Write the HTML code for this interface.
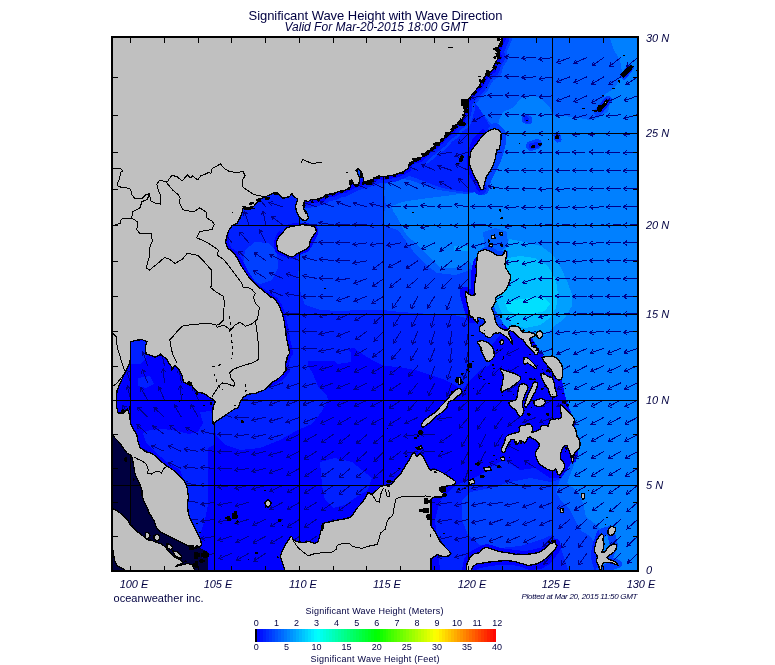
<!DOCTYPE html>
<html lang="en"><head><meta charset="utf-8"><title>Significant Wave Height with Wave Direction</title>
<style>html,body{margin:0;padding:0;background:#fff}body{width:775px;height:665px;overflow:hidden}svg{display:block}text{font-family:"Liberation Sans", Arial, sans-serif;fill:#000040}</style></head><body>
<svg width="775" height="665" viewBox="0 0 775 665">
<rect width="775" height="665" fill="#fff"/>
<defs><clipPath id="mc"><rect x="113" y="38" width="524" height="532"/></clipPath></defs>
<g clip-path="url(#mc)">
<g shape-rendering="crispEdges">
<rect x="113" y="38" width="524" height="532" fill="#0000ff"/>
<path d="M113 38L113 335L150 336L185 355L205 380L214 405L214 425L216 435L225 445L240 450L260 448L280 440L298 430L312 424L322 411L328 400L327 396L319 388L316 381L313 374L308 365L308 361L334 361L337 364L351 362L351 353L347 349L354 348L361 353L372 360L384 366L399 367L415 370L431 375L445 380L455 385L462 390L470 380L480 370L490 365L492 345L500 335L505 325L520 328L530 335L538 348L545 358L555 365L562 380L565 395L568 405L574 420L578 440L578 455L570 470L562 478L550 478L535 468L520 470L508 462L503 460L490 468L480 475L470 480L458 484L450 490L440 500L435 520L440 570L637 570L637 38Z" fill="#0020ff"/>
<path d="M143 433L150 430L164 429L177 431L189 434L198 432L203 423L200 412L211 411L214 425L214 445L208 448L208 505L205 520L200 535L197 545L190 530L187 510L187 490L180 470L167 462L155 452L146 442Z" fill="#0020ff"/>
<path d="M131 341L146 341L148 349L146 358L140 364L131 364Z" fill="#0020ff"/>
<path d="M138 378L150 376L154 384L146 388L138 386Z" fill="#0020ff"/>
<path d="M320 462L335 458L352 462L362 470L372 478L368 490L355 498L345 505L333 508L325 500L322 485Z" fill="#0020ff"/>
<path d="M300 38L300 260L298 275L300 290L305 305L320 310L340 311L360 310L382 310L400 312L431 314L450 314L466 318L472 318L490 322L505 325L520 328L530 335L538 348L545 358L555 365L562 380L565 395L568 405L574 420L578 440L578 455L575 460L565 478L550 482L530 478L510 482L490 488L470 492L462 500L462 520L468 535L480 545L500 548L520 546L540 540L552 535L560 545L565 560L568 570L637 570L637 38Z" fill="#0040ff"/>
<path d="M245 250L255 242L268 243L277 252L278 268L272 280L260 284L248 278L243 265Z" fill="#0040ff"/>
<path d="M503 38L470 98L478 108L488 120L497 132L497 150L490 170L484 190L467 194L452 192L439 190L426 186L413 181L400 178L387 176L384 193L386 206L383 216L385 226L398 230L406 241L416 255L426 265L437 273L455 275L468 271L470 268L490 300L505 325L520 328L530 335L538 348L545 358L555 365L562 380L565 395L568 405L574 420L578 440L578 455L572 462L560 480L556 492L562 502L570 510L575 520L580 530L590 536L596 545L596 570L637 570L637 38Z" fill="#0060ff"/>
<path d="M466 98L478 106L490 126L480 140L472 152L470 168L476 182L481 191L467 192L452 190L439 187L426 182L413 177L400 174L395 160L430 140L455 115Z" fill="#0020ff"/>
<path d="M497 132L497 150L490 170L484 190L468 194L460 194L445 196L429 198L414 200L402 202L392 206L393 211L397 217L402 227L407 236L412 240L420 248L430 258L440 268L455 268L470 262L490 300L505 325L520 328L530 335L538 348L545 358L555 365L562 380L565 395L568 405L574 420L578 440L578 455L575 462L567 483L576 490L581 497L584 507L586 517L594 523L601 530L601 570L637 570L637 38L610 38L614 50L620 60L622 72L617 84L610 91L603 96L610 103L608 112L598 118L589 120L574 117L562 116L553 115L550 108L541 98L531 95L522 97L517 103L512 108L503 112L499 120Z" fill="#0080ff"/>
<path d="M483 232L495 228L507 232L508 245L500 252L485 250Z" fill="#0060ff"/>
<path d="M506 250L509 239L525 242L541 246L553 255L561 268L567 281L572 294L572 306L566 316L560 322L553 327L547 334L540 337L520 337L505 326L495 310L492 290L495 260Z" fill="#00a0ff"/>
<path d="M454 246L468 246L468 251L454 251Z" fill="#00a0ff"/>
<path d="M508 258L520 256L535 258L548 266L556 280L558 295L556 308L550 318L540 325L525 328L512 325L503 315L496 300L494 280L497 265Z" fill="#00c0ff"/>
<path d="M505 302L514 300L530 298L545 298L550 304L545 311L532 314L518 315L508 311Z" fill="#00e0ff"/>
<path d="M113 420L130 440L150 460L170 480L180 500L185 520L195 540L200 548L208 552L208 570L113 570Z" fill="#000040"/>
<path d="M503 38L500 45L497 51L499 57L495 63L493 70L487 74L483 80L480 86L474 92L469 98L465 102L466 108L464 115L462 121L456 125L452 131L446 135L441 141L435 146L431 149L424 155" fill="none" stroke="#0040ff" stroke-width="18" stroke-linejoin="round" stroke-linecap="round"/>
<path d="M503 38L500 45L497 51L499 57L495 63L493 70L487 74L483 80L480 86L474 92L469 98L465 102L466 108L464 115L462 121L456 125L452 131L446 135L441 141L435 146L431 149L424 155L420 159L413 161L409 164L408 169L403 172L395 175L389 176L384 177L378 176L374 179L367 181L360 183L352 186L345 190L339 191L333 194L327 194L323 198L316 200L311 200L308 202L305 201" fill="none" stroke="#0020ff" stroke-width="13" stroke-linejoin="round" stroke-linecap="round"/>
<path d="M503 38L500 45L497 51L499 57L495 63L493 70L487 74L483 80L480 86L474 92L469 98L465 102L466 108L464 115L462 121L456 125L452 131L446 135L441 141L435 146L431 149L424 155L420 159L413 161L409 164L408 169L403 172L395 175L389 176L384 177L378 176L374 179L367 181L360 183L352 186L345 190L339 191L333 194L327 194L323 198L316 200L311 200L308 202L305 201" fill="none" stroke="#0000ff" stroke-width="6" stroke-linejoin="round" stroke-linecap="round"/>
<path d="M495 129L500 134L500 142L498 150L495 160L490 170L485 180L483 189" fill="none" stroke="#0040ff" stroke-width="12" stroke-linejoin="round" stroke-linecap="round"/>
<path d="M480 188L478 182L474 177L471 170L470 160L472 150L476 140L483 133" fill="none" stroke="#0020ff" stroke-width="14" stroke-linejoin="round" stroke-linecap="round"/>
<path d="M480 188L478 182L474 177L471 170L470 160L472 150L476 140L483 133" fill="none" stroke="#0000ff" stroke-width="7" stroke-linejoin="round" stroke-linecap="round"/>
<path d="M479 262L477 270L476 280L477 290L475 300L470 296L465 292L467 300L470 310L472 318" fill="none" stroke="#0000ff" stroke-width="11" stroke-linejoin="round" stroke-linecap="round"/>
<path d="M479 262L484 251L490 250L498 255L505 254" fill="none" stroke="#0040ff" stroke-width="7" stroke-linejoin="round" stroke-linecap="round"/>
<path d="M230 216L227 225L226 237L226 243L229 250L235 254L240 262L245 272L253 284L260 290L271 297L275 300L279 306L282 314L284 322L286 330L287 339L289 347L290 353L287 358L286 366L287 370L284 374L280 378L275 381L271 383" fill="none" stroke="#0000ff" stroke-width="6" stroke-linejoin="round" stroke-linecap="round"/>
<path d="M466 570L468 560L471 556L476 553L482 550L487 548L494 550L500 552L508 553L516 554L524 555L532 554L540 552L548 549L552 545L556 543L557 547L555 551L551 556L547 561L540 565L530 566L520 562L510 561L500 561L490 562L480 564L472 567" fill="none" stroke="#0000ff" stroke-width="8" stroke-linejoin="round" stroke-linecap="round"/>
<path d="M601 534L597 545L595 555L597 563L599 570" fill="none" stroke="#0020ff" stroke-width="9" stroke-linejoin="round" stroke-linecap="round"/>
<path d="M603 532L610 530L614 545L608 560L618 564L600 570" fill="none" stroke="#0040ff" stroke-width="8" stroke-linejoin="round" stroke-linecap="round"/>
<path d="M502 452L506 442L512 437L518 440L525 443L530 440L536 448L536 458L540 464L548 470L555 473L560 470L562 462L566 455L571 452L573 460" fill="none" stroke="#0000ff" stroke-width="6" stroke-linejoin="round" stroke-linecap="round"/>
<path d="M288 227L296 225L306 225L315 228L316 233L312 240L309 246L306 250L300 252L294 256L290 256L284 254L278 251L276 246L277 240L280 234" fill="none" stroke="#0000ff" stroke-width="5" stroke-linejoin="round" stroke-linecap="round"/>
<path d="M598 112L603 106L608 100" fill="none" stroke="#0040ff" stroke-width="8" stroke-linejoin="round" stroke-linecap="round"/>
<path d="M624 76L630 68" fill="none" stroke="#0040ff" stroke-width="7" stroke-linejoin="round" stroke-linecap="round"/>
<path d="M526 119L528 120" fill="none" stroke="#0040ff" stroke-width="9" stroke-linejoin="round" stroke-linecap="round"/>
<path d="M526 119L527 120" fill="none" stroke="#0020ff" stroke-width="5" stroke-linejoin="round" stroke-linecap="round"/>
<path d="M531 146L537 144" fill="none" stroke="#0040ff" stroke-width="10" stroke-linejoin="round" stroke-linecap="round"/>
<path d="M532 146L536 145" fill="none" stroke="#0020ff" stroke-width="6" stroke-linejoin="round" stroke-linecap="round"/>
<path d="M557 136L558 139" fill="none" stroke="#0040ff" stroke-width="7" stroke-linejoin="round" stroke-linecap="round"/>
<path d="M602 108L606 102" fill="none" stroke="#0020ff" stroke-width="7" stroke-linejoin="round" stroke-linecap="round"/>
<path d="M625 74L629 69" fill="none" stroke="#0020ff" stroke-width="6" stroke-linejoin="round" stroke-linecap="round"/>
</g>
<path d="M130.7 417.3L122.6 405.2M126.6 407.0L122.6 405.2L122.8 409.6M130.7 400.1L127.3 386.0M130.4 389.1L127.3 386.0L125.9 390.2M130.7 382.9L126.1 369.2M129.5 372.0L126.1 369.2L125.1 373.5M130.7 365.7L125.6 352.1M129.1 354.8L125.6 352.1L124.7 356.5M147.6 451.4L134.8 444.7M139.1 444.3L134.8 444.7L137.0 448.5M147.6 434.4L136.9 424.5M141.3 425.3L136.9 424.5L138.1 428.8M147.6 417.3L137.4 407.0M141.7 408.0L137.4 407.0L138.4 411.3M147.6 400.1L140.6 387.4M144.4 389.6L140.6 387.4L140.4 391.8M147.6 382.9L142.4 369.4M145.9 372.1L142.4 369.4L141.6 373.7M147.6 365.7L142.9 352.0M146.3 354.8L142.9 352.0L141.9 356.3M164.5 451.4L151.3 445.5M155.6 444.9L151.3 445.5L153.7 449.1M164.5 434.4L152.7 425.9M157.1 426.2L152.7 425.9L154.4 430.0M164.5 417.3L153.8 407.5M158.1 408.3L153.8 407.5L155.0 411.7M164.5 400.1L158.9 386.8M162.5 389.3L158.9 386.8L158.2 391.1M164.5 382.9L163.1 368.5M165.8 372.0L163.1 368.5L161.2 372.4M164.5 365.7L161.4 351.5M164.5 354.7L161.4 351.5L159.9 355.7M181.4 468.4L168.2 462.3M172.6 461.8L168.2 462.3L170.6 466.0M181.4 451.4L168.2 445.3M172.6 444.8L168.2 445.3L170.7 449.0M181.4 434.4L169.9 425.6M174.3 426.0L169.9 425.6L171.4 429.7M181.4 417.3L174.1 404.7M178.0 406.8L174.1 404.7L174.0 409.1M181.4 400.1L180.3 385.7M182.9 389.2L180.3 385.7L178.2 389.6M181.4 382.9L179.0 368.7M181.9 371.9L179.0 368.7L177.3 372.7M198.3 519.3L183.8 519.4M187.5 517.0L183.8 519.4L187.5 521.7M198.3 502.3L183.8 501.1M187.8 499.1L183.8 501.1L187.4 503.8M198.3 485.4L184.0 482.8M188.1 481.2L184.0 482.8L187.3 485.8M198.3 468.4L183.9 466.6M187.9 464.7L183.9 466.6L187.3 469.3M198.3 451.4L184.0 448.9M188.1 447.2L184.0 448.9L187.3 451.8M198.3 434.4L185.6 427.4M190.0 427.2L185.6 427.4L187.7 431.3M198.3 417.3L191.0 404.7M194.9 406.8L191.0 404.7L190.9 409.1M198.3 400.1L193.0 386.6M196.5 389.3L193.0 386.6L192.2 391.0M215.2 553.1L201.2 556.7M204.2 553.5L201.2 556.7L205.4 558.0M215.2 536.2L200.9 538.7M204.2 535.8L200.9 538.7L205.0 540.4M215.2 519.3L200.9 521.4M204.2 518.5L200.9 521.4L204.9 523.1M215.2 502.3L200.9 504.4M204.2 501.6L200.9 504.4L204.9 506.2M215.2 485.4L200.7 485.0M204.5 482.7L200.7 485.0L204.4 487.4M215.2 468.4L200.7 467.4M204.6 465.3L200.7 467.4L204.3 470.0M215.2 451.4L200.8 449.4M204.9 447.6L200.8 449.4L204.2 452.2M215.2 434.4L201.1 431.2M205.2 429.7L201.1 431.2L204.2 434.3M232.1 553.1L218.8 558.8M221.3 555.2L218.8 558.8L223.1 559.5M232.1 536.2L218.2 540.4M221.1 537.1L218.2 540.4L222.5 541.6M232.1 519.3L217.9 522.1M221.1 519.1L217.9 522.1L222.0 523.7M232.1 502.3L217.8 504.9M221.1 501.9L217.8 504.9L221.9 506.5M232.1 485.4L217.7 487.5M221.1 484.6L217.7 487.5L221.8 489.2M232.1 468.4L217.6 468.3M221.3 466.0L217.6 468.3L221.3 470.7M232.1 451.4L217.6 451.9M221.3 449.4L217.6 451.9L221.4 454.1M232.1 434.4L217.6 434.2M221.4 431.9L217.6 434.2L221.3 436.6M232.1 417.3L218.2 413.1M222.5 411.9L218.2 413.1L221.1 416.4M232.1 242.8L223.2 231.4M227.3 232.9L223.2 231.4L223.6 235.8M249.0 553.1L236.4 560.3M238.5 556.4L236.4 560.3L240.8 560.5M249.0 536.2L236.0 542.6M238.3 538.9L236.0 542.6L240.4 543.0M249.0 519.3L235.1 523.3M238.0 520.0L235.1 523.3L239.3 524.5M249.0 502.3L235.0 506.1M238.0 502.9L235.0 506.1L239.2 507.4M249.0 485.4L234.9 488.7M238.0 485.6L234.9 488.7L239.1 490.2M249.0 468.4L234.6 470.4M238.0 467.6L234.6 470.4L238.6 472.2M249.0 451.4L234.7 453.9M238.0 451.0L234.7 453.9L238.8 455.6M249.0 434.4L234.6 436.3M238.0 433.5L234.6 436.3L238.6 438.1M249.0 417.3L234.5 417.5M238.2 415.1L234.5 417.5L238.3 419.8M249.0 400.1L234.5 399.2M238.4 397.1L234.5 399.2L238.1 401.8M249.0 260.7L238.2 251.0M242.5 251.8L238.2 251.0L239.4 255.3M249.0 242.8L239.3 232.0M243.6 233.3L239.3 232.0L240.1 236.4M249.0 224.9L244.2 211.2M247.7 214.0L244.2 211.2L243.3 215.5M265.9 553.1L253.8 561.1M255.6 557.1L253.8 561.1L258.2 561.0M265.9 536.2L253.1 543.0M255.3 539.2L253.1 543.0L257.5 543.3M265.9 519.3L252.7 525.2M255.1 521.5L252.7 525.2L257.0 525.8M265.9 485.4L251.9 489.2M254.9 486.0L251.9 489.2L256.1 490.5M265.9 468.4L251.8 471.7M254.9 468.6L251.8 471.7L255.9 473.1M265.9 451.4L251.8 454.7M254.9 451.5L251.8 454.7L255.9 456.1M265.9 434.4L251.7 437.5M254.9 434.4L251.7 437.5L255.9 438.9M265.9 417.3L251.7 420.2M254.9 417.1L251.7 420.2L255.8 421.7M265.9 400.1L251.8 403.4M254.9 400.3L251.8 403.4L255.9 404.8M265.9 278.4L253.6 270.7M258.0 270.7L253.6 270.7L255.5 274.7M265.9 260.7L254.1 252.3M258.5 252.5L254.1 252.3L255.8 256.4M265.9 242.8L259.6 229.8M263.3 232.1L259.6 229.8L259.1 234.2M265.9 224.9L263.0 210.7M266.0 213.9L263.0 210.7L261.5 214.8M265.9 206.9L256.6 195.8M260.8 197.1L256.6 195.8L257.2 200.1M282.8 536.2L270.4 543.7M272.4 539.8L270.4 543.7L274.8 543.8M282.8 519.3L270.2 526.5M272.3 522.6L270.2 526.5L274.6 526.6M282.8 502.3L270.0 509.2M272.2 505.4L270.0 509.2L274.4 509.5M282.8 485.4L269.7 491.6M272.1 487.9L269.7 491.6L274.1 492.1M282.8 468.4L269.0 473.0M271.8 469.6L269.0 473.0L273.3 474.0M282.8 451.4L268.8 455.2M271.8 452.0L268.8 455.2L273.0 456.5M282.8 434.4L268.9 438.6M271.8 435.2L268.9 438.6L273.2 439.7M282.8 417.3L269.0 421.8M271.8 418.4L269.0 421.8L273.3 422.9M282.8 400.1L269.1 404.9M271.9 401.5L269.1 404.9L273.4 405.9M282.8 382.9L269.1 387.6M271.9 384.2L269.1 387.6L273.4 388.6M282.8 296.0L269.4 290.4M273.8 289.7L269.4 290.4L272.0 294.0M282.8 278.4L269.5 272.7M273.8 272.0L269.5 272.7L272.0 276.3M282.8 260.7L269.7 254.5M274.0 254.0L269.7 254.5L272.1 258.2M282.8 224.9L271.3 216.2M275.6 216.6L271.3 216.2L272.8 220.3M282.8 206.9L269.0 202.5M273.2 201.4L269.0 202.5L271.8 205.9M299.7 536.2L287.8 544.5M289.5 540.5L287.8 544.5L292.2 544.3M299.7 519.3L287.4 527.0M289.3 523.0L287.4 527.0L291.8 527.0M299.7 502.3L287.1 509.6M289.2 505.7L287.1 509.6L291.5 509.7M299.7 485.4L287.1 492.6M289.2 488.7L287.1 492.6L291.5 492.8M299.7 468.4L286.8 475.1M289.1 471.3L286.8 475.1L291.2 475.4M299.7 451.4L286.6 457.5M289.0 453.8L286.6 457.5L290.9 458.1M299.7 434.4L286.4 440.2M288.9 436.6L286.4 440.2L290.8 440.8M299.7 417.3L286.1 422.3M288.8 418.8L286.1 422.3L290.4 423.2M299.7 400.1L286.1 405.1M288.8 401.6L286.1 405.1L290.4 406.0M299.7 382.9L286.1 387.9M288.8 384.4L286.1 387.9L290.4 388.8M299.7 365.7L285.5 368.4M288.7 365.4L285.5 368.4L289.6 370.0M299.7 348.4L285.2 349.0M288.8 346.5L285.2 349.0L289.0 351.2M299.7 331.0L285.2 331.3M288.9 328.9L285.2 331.3L289.0 333.6M299.7 313.6L285.2 313.9M288.9 311.5L285.2 313.9L289.0 316.1M299.7 296.0L285.4 293.5M289.5 291.9L285.4 293.5L288.7 296.5M299.7 278.4L286.1 273.4M290.4 272.5L286.1 273.4L288.8 276.9M299.7 260.7L286.3 255.2M290.6 254.5L286.3 255.2L288.8 258.8M316.6 536.2L304.7 544.5M306.4 540.4L304.7 544.5L309.1 544.2M316.6 519.3L304.6 527.5M306.4 523.4L304.6 527.5L309.0 527.3M316.6 502.3L304.2 509.9M306.2 506.0L304.2 509.9L308.6 509.9M316.6 485.4L304.5 493.4M306.3 489.4L304.5 493.4L308.9 493.3M316.6 468.4L304.7 476.7M306.4 472.7L304.7 476.7L309.1 476.5M316.6 451.4L304.3 459.1M306.2 455.1L304.3 459.1L308.7 459.1M316.6 434.4L304.0 441.5M306.1 437.7L304.0 441.5L308.4 441.7M316.6 417.3L303.2 422.8M305.8 419.2L303.2 422.8L307.5 423.6M316.6 400.1L302.9 405.0M305.7 401.6L302.9 405.0L307.2 406.0M316.6 382.9L302.6 386.7M305.6 383.5L302.6 386.7L306.8 388.0M316.6 365.7L302.2 367.7M305.6 364.9L302.2 367.7L306.3 369.5M316.6 348.4L302.1 348.4M305.8 346.1L302.1 348.4L305.8 350.7M316.6 331.0L302.1 331.0M305.8 328.7L302.1 331.0L305.8 333.4M316.6 313.6L302.2 315.6M305.6 312.7L302.2 315.6L306.3 317.4M316.6 296.0L302.1 296.6M305.7 294.2L302.1 296.6L305.9 298.8M316.6 278.4L302.4 275.7M306.5 274.1L302.4 275.7L305.6 278.7M316.6 260.7L302.6 256.9M306.8 255.6L302.6 256.9L305.6 260.1M316.6 242.8L302.3 240.7M306.3 239.0L302.3 240.7L305.6 243.6M316.6 224.9L302.1 224.2M306.0 222.1L302.1 224.2L305.7 226.7M316.6 206.9L302.8 202.3M307.1 201.3L302.8 202.3L305.6 205.7M333.5 519.3L321.6 527.6M323.3 523.5L321.6 527.6L326.0 527.4M333.5 502.3L321.5 510.6M323.3 506.5L321.5 510.6L325.9 510.4M333.5 485.4L321.6 493.7M323.3 489.6L321.6 493.7L326.0 493.5M333.5 468.4L321.6 476.8M323.4 472.7L321.6 476.8L326.0 476.5M333.5 451.4L321.6 459.7M323.3 455.7L321.6 459.7L326.0 459.5M333.5 434.4L321.5 442.5M323.3 438.5L321.5 442.5L325.9 442.4M333.5 417.3L320.6 423.9M322.9 420.1L320.6 423.9L325.0 424.3M333.5 400.1L320.0 405.5M322.6 402.0L320.0 405.5L324.4 406.3M333.5 382.9L319.9 387.9M322.6 384.4L319.9 387.9L324.2 388.8M333.5 365.7L319.6 369.7M322.5 366.4L319.6 369.7L323.8 370.9M333.5 348.4L319.3 351.4M322.5 348.3L319.3 351.4L323.4 352.9M333.5 331.0L319.4 334.3M322.5 331.2L319.4 334.3L323.5 335.7M333.5 313.6L319.3 316.5M322.5 313.5L319.3 316.5L323.4 318.1M333.5 296.0L319.0 296.6M322.6 294.1L319.0 296.6L322.8 298.8M333.5 278.4L319.0 278.1M322.8 275.9L319.0 278.1L322.7 280.5M333.5 260.7L319.1 258.8M323.1 257.0L319.1 258.8L322.5 261.6M333.5 242.8L319.0 242.3M322.8 240.1L319.0 242.3L322.7 244.8M333.5 224.9L319.2 222.6M323.2 220.9L319.2 222.6L322.5 225.5M333.5 206.9L319.9 202.0M324.2 201.0L319.9 202.0L322.6 205.4M350.4 502.3L338.6 510.7M340.3 506.7L338.6 510.7L343.0 510.5M350.4 485.4L339.1 494.5M340.6 490.3L339.1 494.5L343.5 494.0M350.4 468.4L339.3 477.7M340.6 473.5L339.3 477.7L343.6 477.1M350.4 451.4L339.5 461.0M340.8 456.8L339.5 461.0L343.8 460.3M350.4 434.4L339.0 443.4M340.5 439.2L339.0 443.4L343.4 442.9M350.4 417.3L337.8 424.5M339.9 420.6L337.8 424.5L342.2 424.6M350.4 400.1L337.1 405.8M339.6 402.2L337.1 405.8L341.4 406.5M350.4 382.9L337.0 388.4M339.5 384.8L337.0 388.4L341.3 389.1M350.4 365.7L337.0 371.1M339.5 367.6L337.0 371.1L341.3 371.9M350.4 348.4L336.4 352.2M339.4 348.9L336.4 352.2L340.6 353.4M350.4 331.0L337.0 336.4M339.5 332.9L337.0 336.4L341.3 337.2M350.4 313.6L337.1 319.3M339.6 315.7L337.1 319.3L341.4 319.9M350.4 296.0L336.7 300.8M339.5 297.4L336.7 300.8L341.0 301.8M350.4 278.4L336.0 280.2M339.4 277.4L336.0 280.2L340.0 282.0M350.4 260.7L335.9 260.7M339.6 258.3L335.9 260.7L339.6 263.0M350.4 242.8L335.9 242.7M339.7 240.4L335.9 242.7L339.6 245.1M350.4 224.9L335.9 224.4M339.7 222.2L335.9 224.4L339.6 226.9M350.4 206.9L336.8 201.9M341.1 201.0L336.8 201.9L339.5 205.4M350.4 188.7L336.6 184.2M340.9 183.1L336.6 184.2L339.4 187.5M367.3 485.4L356.1 494.6M357.5 490.5L356.1 494.6L360.5 494.1M367.3 468.4L356.2 477.8M357.6 473.6L356.2 477.8L360.6 477.1M367.3 451.4L356.6 461.2M357.8 456.9L356.6 461.2L360.9 460.4M367.3 434.4L356.3 443.8M357.6 439.6L356.3 443.8L360.7 443.2M367.3 417.3L354.6 424.3M356.8 420.5L354.6 424.3L359.0 424.5M367.3 400.1L354.2 406.4M356.6 402.7L354.2 406.4L358.6 406.9M367.3 382.9L354.2 389.2M356.6 385.5L354.2 389.2L358.6 389.7M367.3 365.7L354.3 372.2M356.6 368.5L354.3 372.2L358.7 372.6M367.3 348.4L354.6 355.4M356.7 351.6L354.6 355.4L359.0 355.6M367.3 331.0L355.6 339.6M357.2 335.5L355.6 339.6L360.0 339.3M367.3 313.6L354.7 320.8M356.8 316.9L354.7 320.8L359.1 321.0M367.3 296.0L353.9 301.5M356.4 297.9L353.9 301.5L358.2 302.2M367.3 278.4L353.8 283.6M356.4 280.1L353.8 283.6L358.1 284.5M367.3 260.7L353.1 263.4M356.3 260.4L353.1 263.4L357.2 265.0M367.3 242.8L352.9 244.6M356.3 241.8L352.9 244.6L356.9 246.5M367.3 224.9L352.8 224.8M356.6 222.5L352.8 224.8L356.5 227.2M367.3 206.9L353.3 203.1M357.5 201.8L353.3 203.1L356.3 206.4M367.3 188.7L353.7 183.8M358.0 182.9L353.7 183.8L356.4 187.3M384.2 468.4L373.6 478.3M374.7 474.0L373.6 478.3L377.9 477.4M384.2 451.4L373.9 461.6M374.9 457.4L373.9 461.6L378.2 460.7M384.2 434.4L373.3 444.0M374.6 439.7L373.3 444.0L377.7 443.2M384.2 417.3L371.4 424.2M373.6 420.3L371.4 424.2L375.8 424.4M384.2 400.1L371.1 406.3M373.5 402.6L371.1 406.3L375.4 406.8M384.2 382.9L371.8 390.5M373.8 386.6L371.8 390.5L376.2 390.5M384.2 365.7L371.7 373.0M373.7 369.1L371.7 373.0L376.1 373.1M384.2 348.4L372.6 357.1M374.2 353.0L372.6 357.1L377.0 356.7M384.2 331.0L374.0 341.3M375.0 337.0L374.0 341.3L378.3 340.3M384.2 313.6L373.9 323.7M374.9 319.5L373.9 323.7L378.2 322.8M384.2 296.0L371.7 303.4M373.8 299.5L371.7 303.4L376.1 303.5M384.2 278.4L372.2 286.5M374.0 282.5L372.2 286.5L376.6 286.4M384.2 260.7L372.7 269.5M374.2 265.4L372.7 269.5L377.1 269.1M384.2 242.8L369.9 245.0M373.2 242.2L369.9 245.0L373.9 246.8M384.2 224.9L369.7 225.8M373.3 223.3L369.7 225.8L373.6 227.9M384.2 206.9L370.0 203.7M374.2 202.3L370.0 203.7L373.2 206.8M384.2 188.7L371.4 181.9M375.8 181.6L371.4 181.9L373.6 185.7M401.1 468.4L389.2 476.7M390.9 472.7L389.2 476.7L393.6 476.5M401.1 451.4L389.4 460.0M391.1 455.9L389.4 460.0L393.8 459.7M401.1 434.4L388.7 441.8M390.7 437.9L388.7 441.8L393.1 441.9M401.1 417.3L388.9 425.0M390.8 421.1L388.9 425.0L393.3 425.0M401.1 400.1L389.2 408.4M390.9 404.4L389.2 408.4L393.6 408.2M401.1 382.9L389.0 390.9M390.8 386.9L389.0 390.9L393.4 390.8M401.1 365.7L389.8 374.8M391.3 370.6L389.8 374.8L394.2 374.3M401.1 348.4L391.5 359.3M392.2 355.0L391.5 359.3L395.8 358.0M401.1 331.0L393.4 343.3M393.4 338.9L393.4 343.3L397.4 341.4M401.1 313.6L393.8 326.1M393.7 321.7L393.8 326.1L397.7 324.0M401.1 296.0L392.8 307.9M393.0 303.5L392.8 307.9L396.8 306.2M401.1 278.4L389.8 287.4M391.2 283.3L389.8 287.4L394.1 286.9M401.1 260.7L388.3 267.5M390.5 263.7L388.3 267.5L392.7 267.8M401.1 242.8L386.9 245.6M390.1 242.6L386.9 245.6L391.0 247.2M401.1 224.9L386.7 226.2M390.2 223.6L386.7 226.2L390.6 228.2M401.1 206.9L386.7 205.6M390.6 203.6L386.7 205.6L390.2 208.2M401.1 188.7L388.2 182.2M392.5 181.8L388.2 182.2L390.4 185.9M418.0 451.4L403.7 453.5M407.0 450.7L403.7 453.5L407.7 455.3M418.0 434.4L403.6 436.4M407.0 433.6L403.6 436.4L407.7 438.2M418.0 417.3L404.9 423.6M407.3 419.8L404.9 423.6L409.3 424.0M418.0 400.1L408.0 410.6M408.9 406.3L408.0 410.6L412.3 409.5M418.0 382.9L408.7 394.1M409.3 389.7L408.7 394.1L412.9 392.7M418.0 365.7L408.3 376.5M409.1 372.2L408.3 376.5L412.6 375.3M418.0 348.4L410.3 360.7M410.3 356.3L410.3 360.7L414.3 358.8M418.0 331.0L412.2 344.3M411.5 339.9L412.2 344.3L415.8 341.8M418.0 313.6L411.8 326.7M411.3 322.3L411.8 326.7L415.5 324.3M418.0 296.0L411.1 308.8M410.8 304.4L411.1 308.8L415.0 306.6M418.0 278.4L406.9 287.7M408.3 283.5L406.9 287.7L411.3 287.1M418.0 260.7L406.0 268.7M407.8 264.7L406.0 268.7L410.4 268.6M418.0 242.8L404.1 246.9M407.0 243.6L404.1 246.9L408.3 248.1M418.0 224.9L403.6 226.7M407.0 223.9L403.6 226.7L407.6 228.5M418.0 206.9L403.5 206.8M407.2 204.5L403.5 206.8L407.2 209.1M418.0 188.7L404.7 182.8M409.1 182.2L404.7 182.8L407.2 186.5M418.0 170.4L404.6 164.9M408.9 164.2L404.6 164.9L407.2 168.5M434.9 519.3L420.7 522.1M423.9 519.1L420.7 522.1L424.8 523.7M434.9 502.3L420.6 504.7M423.9 501.8L420.6 504.7L424.6 506.4M434.9 468.4L420.7 471.5M423.9 468.5L420.7 471.5L424.9 473.0M434.9 451.4L420.4 452.2M424.0 449.7L420.4 452.2L424.3 454.3M434.9 434.4L420.4 434.4M424.1 432.1L420.4 434.4L424.1 436.8M434.9 400.1L425.9 411.5M426.4 407.1L425.9 411.5L430.1 410.0M434.9 382.9L428.2 395.8M427.9 391.4L428.2 395.8L432.0 393.6M434.9 365.7L430.1 379.4M429.1 375.1L430.1 379.4L433.5 376.6M434.9 348.4L429.4 361.8M428.6 357.5L429.4 361.8L433.0 359.2M434.9 331.0L430.4 344.8M429.3 340.5L430.4 344.8L433.8 342.0M434.9 313.6L431.4 327.6M430.1 323.5L431.4 327.6L434.6 324.6M434.9 296.0L427.2 308.3M427.2 303.9L427.2 308.3L431.1 306.4M434.9 278.4L424.6 288.6M425.6 284.3L424.6 288.6L428.9 287.6M434.9 260.7L423.8 270.0M425.1 265.8L423.8 270.0L428.1 269.4M434.9 242.8L421.8 249.0M424.2 245.3L421.8 249.0L426.1 249.5M434.9 224.9L420.7 227.8M423.9 224.8L420.7 227.8L424.8 229.4M434.9 206.9L420.5 205.2M424.5 203.3L420.5 205.2L423.9 208.0M434.9 188.7L421.6 183.1M425.9 182.4L421.6 183.1L424.1 186.7M434.9 170.4L421.6 164.5M426.0 163.9L421.6 164.5L424.1 168.2M434.9 152.0L420.5 150.2M424.5 148.3L420.5 150.2L423.9 153.0M451.8 553.1L438.0 557.5M440.8 554.1L438.0 557.5L442.2 558.6M451.8 536.2L437.8 539.9M440.8 536.7L437.8 539.9L442.0 541.2M451.8 519.3L437.5 521.9M440.8 518.9L437.5 521.9L441.6 523.5M451.8 502.3L437.4 504.4M440.8 501.5L437.4 504.4L441.5 506.2M451.8 468.4L440.0 476.8M441.7 472.8L440.0 476.8L444.4 476.6M451.8 451.4L438.2 456.5M440.9 453.0L438.2 456.5L442.5 457.3M451.8 434.4L439.9 442.6M441.6 438.6L439.9 442.6L444.3 442.4M451.8 417.3L437.4 419.2M440.8 416.4L437.4 419.2L441.4 421.0M451.8 382.9L446.9 396.6M446.0 392.3L446.9 396.6L450.4 393.9M451.8 365.7L447.3 379.5M446.2 375.2L447.3 379.5L450.7 376.7M451.8 348.4L449.9 362.8M448.1 358.8L449.9 362.8L452.7 359.4M451.8 331.0L449.9 345.4M448.1 341.4L449.9 345.4L452.7 342.0M451.8 313.6L447.7 327.5M446.5 323.2L447.7 327.5L451.0 324.5M451.8 296.0L446.7 309.6M445.8 305.3L446.7 309.6L450.2 306.9M451.8 278.4L441.6 288.7M442.5 284.4L441.6 288.7L445.9 287.7M451.8 260.7L440.7 270.0M442.0 265.8L440.7 270.0L445.0 269.4M451.8 242.8L439.9 251.1M441.6 247.1L439.9 251.1L444.3 250.9M451.8 224.9L437.3 226.1M440.9 223.4L437.3 226.1L441.2 228.1M451.8 206.9L437.3 206.2M441.1 204.1L437.3 206.2L440.9 208.7M451.8 188.7L439.4 181.3M443.8 181.2L439.4 181.3L441.4 185.2M451.8 170.4L438.0 165.9M442.3 164.9L438.0 165.9L440.8 169.3M451.8 152.0L437.5 154.5M440.8 151.5L437.5 154.5L441.6 156.1M451.8 133.4L439.1 140.3M441.2 136.5L439.1 140.3L443.4 140.6M468.7 553.1L454.9 557.4M457.7 554.1L454.9 557.4L459.1 558.5M468.7 536.2L454.7 540.0M457.7 536.8L454.7 540.0L458.9 541.3M468.7 519.3L454.7 523.0M457.7 519.8L454.7 523.0L458.9 524.3M468.7 502.3L454.6 505.5M457.7 502.4L454.6 505.5L458.7 507.0M468.7 485.4L456.2 492.8M458.2 488.9L456.2 492.8L460.6 492.9M468.7 468.4L464.1 482.2M463.1 477.9L464.1 482.2L467.5 479.4M468.7 451.4L461.6 464.0M461.4 459.6L461.6 464.0L465.4 461.9M468.7 434.4L461.4 446.9M461.2 442.5L461.4 446.9L465.3 444.8M468.7 417.3L459.1 428.2M459.9 423.8L459.1 428.2L463.4 426.9M468.7 400.1L458.3 410.3M459.4 406.0L458.3 410.3L462.6 409.3M468.7 382.9L462.4 396.0M461.9 391.6L462.4 396.0L466.1 393.7M468.7 365.7L463.6 379.3M462.7 374.9L463.6 379.3L467.1 376.6M468.7 348.4L466.0 362.6M464.4 358.5L466.0 362.6L469.0 359.4M468.7 331.0L465.9 345.2M464.3 341.1L465.9 345.2L468.9 342.0M468.7 313.6L463.1 326.9M462.4 322.6L463.1 326.9L466.7 324.4M468.7 278.4L458.6 288.8M459.5 284.5L458.6 288.8L462.9 287.7M468.7 260.7L457.2 269.5M458.7 265.4L457.2 269.5L461.6 269.1M468.7 242.8L456.2 250.1M458.2 246.3L456.2 250.1L460.6 250.3M468.7 224.9L454.2 225.9M457.8 223.3L454.2 225.9L458.1 227.9M468.7 206.9L454.4 204.5M458.5 202.8L454.4 204.5L457.7 207.4M468.7 188.7L458.4 178.5M462.7 179.5L458.4 178.5L459.4 182.8M468.7 170.4L455.5 164.5M459.8 163.9L455.5 164.5L457.9 168.1M468.7 152.0L454.8 156.1M457.7 152.8L454.8 156.1L459.0 157.2M468.7 133.4L458.4 143.7M459.4 139.4L458.4 143.7L462.7 142.7M468.7 114.7L457.5 123.9M458.9 119.7L457.5 123.9L461.9 123.3M485.6 536.2L471.6 540.1M474.6 536.9L471.6 540.1L475.9 541.3M485.6 519.3L471.6 523.0M474.6 519.8L471.6 523.0L475.8 524.3M485.6 502.3L471.4 505.5M474.6 502.4L471.4 505.5L475.6 506.9M485.6 485.4L471.4 488.4M474.6 485.3L471.4 488.4L475.5 489.9M485.6 451.4L478.6 464.1M478.3 459.7L478.6 464.1L482.4 462.0M485.6 434.4L479.4 447.5M478.9 443.1L479.4 447.5L483.1 445.1M485.6 417.3L477.2 429.1M477.5 424.7L477.2 429.1L481.3 427.4M485.6 400.1L475.9 410.9M476.7 406.6L475.9 410.9L480.2 409.7M485.6 382.9L476.9 394.5M477.3 390.1L476.9 394.5L481.0 392.9M485.6 365.7L478.0 378.1M478.0 373.7L478.0 378.1L482.0 376.1M485.6 242.8L471.7 246.9M474.6 243.6L471.7 246.9L475.9 248.1M485.6 224.9L471.1 225.0M474.8 222.7L471.1 225.0L474.9 227.3M485.6 206.9L471.1 206.6M474.9 204.3L471.1 206.6L474.8 209.0M485.6 188.7L473.4 180.9M477.8 181.0L473.4 180.9L475.3 184.9M485.6 114.7L472.8 121.6M475.0 117.7L472.8 121.6L477.2 121.9M485.6 95.8L471.2 97.7M474.6 94.9L471.2 97.7L475.2 99.5M502.5 536.2L489.1 541.8M491.7 538.2L489.1 541.8L493.5 542.5M502.5 519.3L488.8 524.0M491.6 520.6L488.8 524.0L493.1 525.0M502.5 502.3L488.2 504.5M491.5 501.6L488.2 504.5L492.2 506.2M502.5 485.4L488.1 487.3M491.5 484.5L488.1 487.3L492.1 489.1M502.5 468.4L489.4 462.2M493.8 461.7L489.4 462.2L491.8 465.9M502.5 434.4L494.9 446.7M494.9 442.3L494.9 446.7L498.9 444.8M502.5 417.3L494.1 429.1M494.3 424.7L494.1 429.1L498.1 427.4M502.5 400.1L492.6 410.8M493.5 406.4L492.6 410.8L496.9 409.6M502.5 365.7L492.0 375.7M493.1 371.4L492.0 375.7L496.3 374.8M502.5 348.4L491.0 357.2M492.5 353.1L491.0 357.2L495.4 356.8M502.5 313.6L489.5 320.1M491.8 316.3L489.5 320.1L493.9 320.5M502.5 296.0L489.8 302.9M491.9 299.1L489.8 302.9L494.2 303.2M502.5 242.8L488.4 246.0M491.5 242.9L488.4 246.0L492.5 247.5M502.5 224.9L488.0 225.9M491.6 223.3L488.0 225.9L491.9 227.9M502.5 206.9L488.0 206.3M491.8 204.1L488.0 206.3L491.6 208.8M502.5 188.7L488.3 186.0M492.4 184.4L488.3 186.0L491.5 189.0M502.5 170.4L488.1 169.0M492.0 167.1L488.1 169.0L491.6 171.7M502.5 152.0L488.0 152.8M491.6 150.3L488.0 152.8L491.9 154.9M502.5 133.4L488.3 136.3M491.5 133.3L488.3 136.3L492.4 137.8M502.5 114.7L488.0 115.1M491.7 112.7L488.0 115.1L491.8 117.3M502.5 95.8L488.0 95.3M491.8 93.1L488.0 95.3L491.7 97.8M502.5 76.8L488.0 76.4M491.8 74.1L488.0 76.4L491.7 78.8M502.5 57.5L488.0 56.9M491.8 54.7L488.0 56.9L491.6 59.4M519.4 553.1L506.5 559.7M508.7 555.9L506.5 559.7L510.8 560.0M519.4 536.2L506.3 542.3M508.7 538.6L506.3 542.3L510.6 542.9M519.4 519.3L506.2 525.3M508.6 521.6L506.2 525.3L510.6 525.9M519.4 502.3L505.2 505.5M508.4 502.4L505.2 505.5L509.4 507.0M519.4 485.4L505.6 481.0M509.8 479.9L505.6 481.0L508.4 484.4M519.4 468.4L507.3 460.4M511.7 460.5L507.3 460.4L509.2 464.4M519.4 451.4L506.6 444.5M511.0 444.2L506.6 444.5L508.8 448.3M519.4 417.3L507.9 426.1M509.4 422.0L507.9 426.1L512.3 425.7M519.4 382.9L507.6 391.4M509.3 387.3L507.6 391.4L512.0 391.1M519.4 365.7L507.0 373.2M509.0 369.3L507.0 373.2L511.4 373.3M519.4 348.4L506.4 354.9M508.7 351.1L506.4 354.9L510.8 355.3M519.4 313.6L506.3 319.7M508.7 316.0L506.3 319.7L510.6 320.2M519.4 296.0L506.8 303.2M508.9 299.4L506.8 303.2L511.2 303.4M519.4 278.4L506.8 285.6M508.9 281.7L506.8 285.6L511.2 285.8M519.4 260.7L505.1 263.0M508.4 260.1L505.1 263.0L509.1 264.7M519.4 242.8L505.2 245.6M508.4 242.6L505.2 245.6L509.3 247.2M519.4 224.9L505.0 227.0M508.4 224.1L505.0 227.0L509.1 228.8M519.4 206.9L504.9 207.4M508.5 205.0L504.9 207.4L508.7 209.6M519.4 188.7L504.9 188.5M508.7 186.2L504.9 188.5L508.6 190.9M519.4 170.4L504.9 170.4M508.6 168.1L504.9 170.4L508.6 172.7M519.4 152.0L504.9 152.0M508.6 149.7L504.9 152.0L508.6 154.3M519.4 133.4L504.9 133.8M508.6 131.4L504.9 133.8L508.7 136.0M519.4 114.7L504.9 114.1M508.7 111.9L504.9 114.1L508.5 116.6M519.4 95.8L504.9 95.1M508.8 92.9L504.9 95.1L508.5 97.6M519.4 76.8L504.9 76.2M508.7 74.0L504.9 76.2L508.6 78.7M519.4 57.5L504.9 56.8M508.8 54.6L504.9 56.8L508.5 59.3M536.3 536.2L523.4 542.7M525.6 539.0L523.4 542.7L527.7 543.1M536.3 519.3L522.9 524.8M525.5 521.2L522.9 524.8L527.2 525.5M536.3 502.3L522.7 507.3M525.4 503.8L522.7 507.3L527.0 508.2M536.3 485.4L521.9 487.0M525.3 484.3L521.9 487.0L525.9 488.9M536.3 468.4L524.2 460.4M528.6 460.5L524.2 460.4L526.0 464.4M536.3 417.3L522.8 422.4M525.4 418.9L522.8 422.4L527.1 423.3M536.3 331.0L522.9 336.6M525.5 333.0L522.9 336.6L527.2 337.3M536.3 313.6L523.1 319.7M525.6 316.0L523.1 319.7L527.5 320.2M536.3 296.0L523.4 302.5M525.6 298.8L523.4 302.5L527.7 302.9M536.3 278.4L522.5 282.9M525.3 279.5L522.5 282.9L526.8 283.9M536.3 260.7L522.2 264.1M525.3 261.0L522.2 264.1L526.4 265.5M536.3 242.8L521.9 244.8M525.3 242.0L521.9 244.8L526.0 246.6M536.3 224.9L521.9 226.2M525.4 223.6L521.9 226.2L525.8 228.2M536.3 206.9L521.8 207.9M525.4 205.3L521.8 207.9L525.7 210.0M536.3 188.7L521.8 189.0M525.5 186.6L521.8 189.0L525.6 191.3M536.3 170.4L521.8 170.4M525.5 168.1L521.8 170.4L525.5 172.8M536.3 152.0L521.8 152.0M525.5 149.7L521.8 152.0L525.5 154.3M536.3 133.4L521.8 133.7M525.5 131.3L521.8 133.7L525.6 136.0M536.3 114.7L521.8 115.1M525.5 112.6L521.8 115.1L525.6 117.3M536.3 95.8L521.8 96.2M525.5 93.7L521.8 96.2L525.6 98.4M536.3 76.8L521.8 77.6M525.4 75.0L521.8 77.6L525.7 79.7M536.3 57.5L521.8 58.2M525.4 55.7L521.8 58.2L525.7 60.4M553.2 553.1L543.9 564.2M544.5 559.9L543.9 564.2L548.1 562.9M553.2 536.2L543.0 546.5M544.0 542.2L543.0 546.5L547.3 545.5M553.2 519.3L540.1 525.4M542.5 521.7L540.1 525.4L544.4 526.0M553.2 502.3L539.6 507.2M542.3 503.8L539.6 507.2L543.9 508.2M553.2 485.4L539.1 488.7M542.2 485.6L539.1 488.7L543.3 490.1M553.2 417.3L539.6 422.2M542.3 418.8L539.6 422.2L543.9 423.1M553.2 400.1L540.1 406.3M542.5 402.6L540.1 406.3L544.5 406.8M553.2 348.4L539.5 353.2M542.3 349.8L539.5 353.2L543.8 354.2M553.2 331.0L539.2 334.9M542.2 331.7L539.2 334.9L543.5 336.2M553.2 313.6L539.2 317.3M542.2 314.1L539.2 317.3L543.4 318.6M553.2 296.0L538.8 297.3M542.3 294.7L538.8 297.3L542.7 299.3M553.2 278.4L538.7 278.9M542.4 276.5L538.7 278.9L542.5 281.1M553.2 260.7L538.8 262.1M542.2 259.4L538.8 262.1L542.7 264.1M553.2 242.8L538.7 242.9M542.4 240.5L538.7 242.9L542.4 245.2M553.2 224.9L538.7 225.1M542.4 222.7L538.7 225.1L542.5 227.4M553.2 206.9L538.7 207.7M542.3 205.2L538.7 207.7L542.6 209.8M553.2 188.7L538.7 189.3M542.3 186.8L538.7 189.3L542.5 191.5M553.2 170.4L538.7 170.7M542.4 168.3L538.7 170.7L542.5 172.9M553.2 152.0L538.7 152.2M542.4 149.8L538.7 152.2L542.5 154.5M553.2 133.4L538.7 133.5M542.4 131.1L538.7 133.5L542.4 135.8M553.2 114.7L538.7 115.2M542.4 112.8L538.7 115.2L542.5 117.4M553.2 95.8L538.8 97.1M542.3 94.4L538.8 97.1L542.7 99.1M553.2 76.8L538.9 79.0M542.2 76.1L538.9 79.0L542.9 80.8M553.2 57.5L538.8 59.5M542.2 56.7L538.8 59.5L542.9 61.3M570.1 553.1L561.7 564.9M561.9 560.5L561.7 564.9L565.7 563.2M570.1 536.2L561.5 547.9M561.8 543.5L561.5 547.9L565.6 546.2M570.1 519.3L558.8 528.3M560.2 524.2L558.8 528.3L563.1 527.8M570.1 502.3L557.1 508.8M559.4 505.0L557.1 508.8L561.5 509.2M570.1 485.4L557.3 492.2M559.5 488.4L557.3 492.2L561.7 492.5M570.1 468.4L557.0 474.7M559.4 470.9L557.0 474.7L561.4 475.2M570.1 400.1L557.0 406.5M559.4 402.7L557.0 406.5L561.4 406.9M570.1 382.9L557.2 389.6M559.5 385.8L557.2 389.6L561.6 390.0M570.1 365.7L557.2 372.4M559.5 368.6L557.2 372.4L561.6 372.7M570.1 348.4L556.8 354.2M559.3 350.6L556.8 354.2L561.2 354.9M570.1 331.0L555.8 333.3M559.1 330.4L555.8 333.3L559.8 335.0M570.1 313.6L555.6 314.6M559.2 312.0L555.6 314.6L559.5 316.7M570.1 296.0L555.6 296.0M559.3 293.7L555.6 296.0L559.3 298.4M570.1 278.4L555.6 279.2M559.2 276.7L555.6 279.2L559.5 281.3M570.1 260.7L555.6 261.7M559.2 259.1L555.6 261.7L559.5 263.7M570.1 242.8L555.6 242.9M559.3 240.6L555.6 242.9L559.3 245.2M570.1 224.9L555.6 225.1M559.3 222.7L555.6 225.1L559.4 227.4M570.1 206.9L555.6 207.7M559.2 205.1L555.6 207.7L559.5 209.8M570.1 188.7L555.6 189.4M559.2 186.9L555.6 189.4L559.5 191.6M570.1 170.4L555.6 170.9M559.3 168.4L555.6 170.9L559.4 173.1M570.1 152.0L555.6 152.4M559.3 150.0L555.6 152.4L559.4 154.6M570.1 133.4L555.6 133.6M559.3 131.2L555.6 133.6L559.4 135.9M570.1 114.7L555.6 115.5M559.2 113.0L555.6 115.5L559.5 117.6M570.1 95.8L556.6 101.0M559.2 97.5L556.6 101.0L560.9 101.8M570.1 76.8L556.5 81.9M559.2 78.4L556.5 81.9L560.9 82.8M570.1 57.5L556.6 62.7M559.2 59.2L556.6 62.7L560.9 63.6M587.0 553.1L578.6 564.9M578.8 560.5L578.6 564.9L582.6 563.2M587.0 536.2L578.3 547.8M578.7 543.4L578.3 547.8L582.4 546.2M587.0 519.3L576.2 529.0M577.5 524.8L576.2 529.0L580.6 528.2M587.0 502.3L574.7 510.1M576.7 506.1L574.7 510.1L579.1 510.1M587.0 485.4L574.7 493.1M576.6 489.1L574.7 493.1L579.1 493.1M587.0 468.4L574.7 476.0M576.6 472.1L574.7 476.0L579.1 476.1M587.0 451.4L574.4 458.6M576.5 454.7L574.4 458.6L578.8 458.8M587.0 434.4L574.4 441.6M576.5 437.7L574.4 441.6L578.8 441.7M587.0 417.3L574.2 424.1M576.4 420.3L574.2 424.1L578.6 424.4M587.0 400.1L574.0 406.6M576.3 402.8L574.0 406.6L578.4 407.0M587.0 382.9L574.1 389.6M576.4 385.8L574.1 389.6L578.5 390.0M587.0 365.7L574.1 372.4M576.4 368.6L574.1 372.4L578.5 372.8M587.0 348.4L573.8 354.4M576.2 350.7L573.8 354.4L578.1 355.0M587.0 331.0L572.7 333.1M576.0 330.3L572.7 333.1L576.7 334.9M587.0 313.6L572.5 314.2M576.1 311.7L572.5 314.2L576.3 316.3M587.0 296.0L572.5 296.6M576.1 294.1L572.5 296.6L576.3 298.8M587.0 278.4L572.5 279.2M576.1 276.7L572.5 279.2L576.4 281.3M587.0 260.7L572.5 261.6M576.1 259.1L572.5 261.6L576.4 263.7M587.0 242.8L572.5 243.5M576.1 241.0L572.5 243.5L576.3 245.6M587.0 224.9L572.5 225.6M576.1 223.1L572.5 225.6L576.3 227.7M587.0 206.9L572.5 207.6M576.1 205.1L572.5 207.6L576.4 209.8M587.0 188.7L572.5 189.1M576.2 186.7L572.5 189.1L576.3 191.4M587.0 170.4L572.5 170.5M576.2 168.1L572.5 170.5L576.2 172.8M587.0 152.0L572.5 152.1M576.2 149.7L572.5 152.1L576.2 154.4M587.0 133.4L572.5 134.6M576.1 132.0L572.5 134.6L576.5 136.6M587.0 114.7L573.0 118.6M576.0 115.3L573.0 118.6L577.2 119.8M587.0 95.8L573.8 101.9M576.2 98.2L573.8 101.9L578.2 102.4M587.0 76.8L573.8 82.8M576.2 79.1L573.8 82.8L578.2 83.3M587.0 57.5L573.7 63.2M576.2 59.6L573.7 63.2L578.0 63.9M603.9 519.3L593.1 528.9M594.3 524.7L593.1 528.9L597.4 528.2M603.9 502.3L592.2 510.9M593.8 506.8L592.2 510.9L596.6 510.6M603.9 485.4L591.6 493.1M593.5 489.1L591.6 493.1L596.0 493.1M603.9 468.4L591.5 476.0M593.5 472.1L591.5 476.0L595.9 476.0M603.9 451.4L591.3 458.7M593.4 454.8L591.3 458.7L595.7 458.8M603.9 434.4L591.3 441.6M593.4 437.7L591.3 441.6L595.7 441.8M603.9 417.3L591.2 424.2M593.3 420.4L591.2 424.2L595.6 424.5M603.9 400.1L591.0 406.9M593.3 403.1L591.0 406.9L595.4 407.2M603.9 382.9L590.8 389.2M593.2 385.5L590.8 389.2L595.2 389.7M603.9 365.7L590.6 371.6M593.1 367.9L590.6 371.6L595.0 372.2M603.9 348.4L590.2 353.1M593.0 349.6L590.2 353.1L594.5 354.1M603.9 331.0L589.5 332.9M592.9 330.1L589.5 332.9L593.5 334.7M603.9 313.6L589.4 314.1M593.0 311.7L589.4 314.1L593.2 316.3M603.9 296.0L589.4 296.5M593.1 294.1L589.4 296.5L593.2 298.7M603.9 278.4L589.4 279.0M593.0 276.5L589.4 279.0L593.2 281.1M603.9 260.7L589.4 260.8M593.1 258.4L589.4 260.8L593.2 263.1M603.9 242.8L589.4 243.2M593.1 240.8L589.4 243.2L593.2 245.4M603.9 224.9L589.4 225.5M593.1 223.0L589.4 225.5L593.2 227.6M603.9 206.9L589.4 207.2M593.1 204.8L589.4 207.2L593.2 209.4M603.9 188.7L589.4 188.9M593.1 186.5L589.4 188.9L593.2 191.2M603.9 170.4L589.4 170.4M593.1 168.1L589.4 170.4L593.1 172.8M603.9 152.0L589.4 152.0M593.1 149.7L589.4 152.0L593.1 154.3M603.9 133.4L589.4 134.4M593.0 131.8L589.4 134.4L593.3 136.4M603.9 114.7L589.9 118.4M592.9 115.2L589.9 118.4L594.1 119.7M603.9 95.8L591.3 103.0M593.4 99.1L591.3 103.0L595.7 103.2M603.9 76.8L591.4 84.2M593.5 80.3L591.4 84.2L595.8 84.3M603.9 57.5L592.0 65.8M593.7 61.8L592.0 65.8L596.4 65.6M620.8 553.1L610.5 563.3M611.5 559.1L610.5 563.3L614.8 562.4M620.8 536.2L610.1 546.0M611.3 541.8L610.1 546.0L614.4 545.2M620.8 519.3L610.0 529.0M611.2 524.7L610.0 529.0L614.4 528.2M620.8 502.3L609.9 511.9M611.2 507.7L609.9 511.9L614.2 511.2M620.8 485.4L608.9 493.7M610.6 489.6L608.9 493.7L613.3 493.5M620.8 468.4L608.4 475.9M610.4 472.0L608.4 475.9L612.8 476.0M620.8 451.4L608.2 458.6M610.3 454.7L608.2 458.6L612.6 458.8M620.8 434.4L608.2 441.5M610.3 437.6L608.2 441.5L612.6 441.7M620.8 417.3L608.0 424.1M610.2 420.3L608.0 424.1L612.4 424.4M620.8 400.1L608.0 406.9M610.2 403.1L608.0 406.9L612.4 407.2M620.8 382.9L607.7 389.2M610.1 385.5L607.7 389.2L612.1 389.7M620.8 365.7L607.6 371.8M610.1 368.1L607.6 371.8L612.0 372.3M620.8 348.4L607.3 353.8M609.9 350.2L607.3 353.8L611.7 354.6M620.8 331.0L606.3 332.0M609.9 329.5L606.3 332.0L610.2 334.1M620.8 313.6L606.3 313.6M610.0 311.2L606.3 313.6L610.0 315.9M620.8 296.0L606.3 296.4M610.0 294.0L606.3 296.4L610.1 298.6M620.8 278.4L606.3 278.6M610.0 276.2L606.3 278.6L610.1 280.9M620.8 260.7L606.3 260.7M610.0 258.3L606.3 260.7L610.0 263.0M620.8 242.8L606.3 242.9M610.0 240.6L606.3 242.9L610.0 245.2M620.8 224.9L606.3 225.1M610.0 222.8L606.3 225.1L610.1 227.4M620.8 206.9L606.3 206.9M610.0 204.6L606.3 206.9L610.0 209.2M620.8 188.7L606.3 188.7M610.0 186.4L606.3 188.7L610.0 191.1M620.8 170.4L606.3 170.6M610.0 168.2L606.3 170.6L610.1 172.9M620.8 152.0L606.3 152.5M610.0 150.0L606.3 152.5L610.1 154.7M620.8 133.4L606.3 134.0M609.9 131.5L606.3 134.0L610.1 136.2M620.8 114.7L606.4 116.2M609.8 113.5L606.4 116.2L610.3 118.1M620.8 95.8L607.6 101.8M610.0 98.1L607.6 101.8L611.9 102.4M620.8 76.8L608.6 84.6M610.5 80.6L608.6 84.6L613.0 84.6M620.8 57.5L609.4 66.4M610.9 62.3L609.4 66.4L613.7 66.0M637.7 553.1L627.4 563.3M628.4 559.1L627.4 563.3L631.7 562.4M637.7 536.2L627.1 546.1M628.2 541.8L627.1 546.1L631.4 545.2M637.7 519.3L626.9 529.0M628.1 524.7L626.9 529.0L631.3 528.2M637.7 502.3L626.8 511.9M628.1 507.7L626.8 511.9L631.2 511.2M637.7 485.4L626.2 494.2M627.7 490.0L626.2 494.2L630.5 493.8M637.7 468.4L625.4 476.1M627.3 472.1L625.4 476.1L629.8 476.1M637.7 451.4L625.1 458.5M627.2 454.6L625.1 458.5L629.5 458.7M637.7 434.4L624.9 441.2M627.1 437.4L624.9 441.2L629.3 441.5M637.7 417.3L624.8 424.0M627.1 420.2L624.8 424.0L629.2 424.3M637.7 400.1L624.8 406.8M627.1 403.0L624.8 406.8L629.2 407.2M637.7 382.9L624.6 389.1M627.0 385.4L624.6 389.1L629.0 389.7M637.7 365.7L624.4 371.4M626.9 367.8L624.4 371.4L628.7 372.1M637.7 348.4L623.9 352.9M626.7 349.5L623.9 352.9L628.2 353.9M637.7 331.0L623.3 332.7M626.7 330.0L623.3 332.7L627.3 334.6M637.7 313.6L623.2 314.1M626.9 311.6L623.2 314.1L627.0 316.3M637.7 296.0L623.2 296.6M626.8 294.1L623.2 296.6L627.0 298.8M637.7 278.4L623.2 278.8M626.9 276.4L623.2 278.8L627.0 281.0M637.7 260.7L623.2 260.8M626.9 258.4L623.2 260.8L626.9 263.1M637.7 242.8L623.2 243.0M626.9 240.7L623.2 243.0L627.0 245.3M637.7 224.9L623.2 225.1M626.9 222.7L623.2 225.1L627.0 227.4M637.7 206.9L623.2 206.9M626.9 204.6L623.2 206.9L626.9 209.2M637.7 188.7L623.2 188.7M626.9 186.4L623.2 188.7L626.9 191.1M637.7 170.4L623.2 170.9M626.9 168.4L623.2 170.9L627.0 173.1M637.7 152.0L623.2 153.1M626.8 150.5L623.2 153.1L627.1 155.2M637.7 133.4L623.3 134.6M626.8 132.0L623.3 134.6L627.2 136.6M637.7 114.7L623.7 118.5M626.7 115.3L623.7 118.5L627.9 119.8M637.7 95.8L624.1 100.8M626.8 97.3L624.1 100.8L628.4 101.7M637.7 76.8L625.7 84.8M627.5 80.8L625.7 84.8L630.1 84.7M637.7 57.5L626.6 66.8M627.9 62.6L626.6 66.8L630.9 66.2" fill="none" stroke="#000088" stroke-width="1" shape-rendering="crispEdges"/>
<path d="M130.5 38V570M214.5 38V570M299.5 38V570M383.5 38V570M468.5 38V570M552.5 38V570M113 485.5H637M113 400.5H637M113 314.5H637M113 225.5H637M113 133.5H637" stroke="#000" stroke-width="1" fill="none" shape-rendering="crispEdges"/>
<path d="M621.0 74.5L625.0 70.0L631.0 65.5L633.5 66.5L629.0 72.0L623.5 77.0ZM606.5 100.0L608.5 100.5L606.5 104.0L603.0 108.0L600.0 112.0L598.5 111.5L601.0 107.0L604.0 103.0Z" fill="#000" stroke="#000" stroke-width="1" shape-rendering="crispEdges"/>
<path d="M100.0 25.0L502.0 25.0L502.2 38.3L500.2 44.5L497.1 50.6L499.1 56.8L495.0 63.0L492.9 70.3L486.7 74.4L482.6 79.5L479.5 85.7L474.4 91.9L469.2 98.1L465.1 102.3L466.1 108.5L464.0 114.6L462.0 120.8L455.8 125.0L451.6 131.2L446.5 135.3L441.3 141.5L435.1 145.6L431.0 148.7L431.0 150.0L423.8 155.2L419.6 159.3L413.5 161.4L409.3 163.4L408.3 168.6L403.1 171.7L394.9 174.8L388.7 175.8L383.5 176.8L378.4 175.8L374.2 178.9L370.1 179.9L367.0 184.1L363.9 181.0L361.8 172.7L357.7 168.6L356.7 170.6L359.8 178.9L358.7 185.1L354.6 185.1L351.5 179.9L349.5 181.0L350.5 187.2L345.3 190.3L339.1 191.3L332.9 194.4L326.7 194.4L322.6 197.5L316.4 199.5L311.3 199.5L308.2 201.6L305.1 200.6L303.0 205.7L304.0 209.9L307.1 214.0L308.6 218.1L306.1 220.6L302.0 219.8L298.9 216.1L296.8 211.9L295.4 206.8L296.8 201.6L297.8 199.5L291.6 194.4L289.6 196.5L283.4 198.5L279.3 194.4L274.1 192.3L271.0 194.4L271.0 194.4L265.8 196.5L261.7 198.5L255.5 203.7L253.5 206.8L243.1 207.8L242.1 211.9L240.0 218.1L236.9 223.3L231.8 226.0L228.7 230.5L226.6 236.7L225.6 242.9L227.6 248.1L231.8 251.2L234.9 254.3L238.0 259.4L241.1 265.6L245.2 271.8L249.3 278.0L255.5 284.2L258.6 287.1L258.6 287.0L263.8 291.1L271.0 297.3L271.0 296.3L275.1 299.4L279.3 305.6L282.4 313.8L284.4 322.1L285.5 330.4L286.5 338.6L288.5 346.9L289.6 353.1L286.5 358.2L285.5 365.5L286.5 369.6L283.4 373.7L279.3 377.8L275.1 380.9L271.0 383.0L271.0 384.0L263.8 390.2L255.5 393.3L247.3 394.4L243.1 397.5L240.0 402.6L238.0 407.8L234.9 408.8L228.7 412.9L222.5 417.1L216.3 421.2L213.2 424.1L212.2 415.0L213.2 406.7L215.3 401.6L213.2 399.5L208.0 396.4L203.9 393.3L197.7 392.3L193.6 388.2L189.5 382.0L187.4 384.0L183.3 382.0L182.2 375.8L179.1 369.6L175.0 365.5L172.9 368.5L169.8 364.4L166.7 359.3L160.5 354.1L155.4 357.2L150.2 355.1L146.1 354.1L145.1 346.9L147.1 341.7L142.0 339.6L135.8 340.3L130.6 341.7L130.6 348.9L130.6 357.2L129.6 363.4L126.5 369.6L123.4 375.8L120.3 383.0L117.2 390.2L116.2 398.5L116.2 405.7L118.2 412.9L123.4 412.9L127.5 408.8L129.6 415.0L130.6 424.1L136.8 435.0L137.8 441.2L139.9 447.4L145.1 451.5L152.3 453.6L157.5 457.7L161.6 461.8L166.7 466.0L171.9 469.1L177.1 473.2L181.2 477.3L185.3 482.5L187.4 488.7L188.4 496.9L187.4 505.2L188.4 513.5L190.5 519.6L193.6 525.8L196.7 532.0L199.8 538.2L201.8 544.4L198.7 547.5L193.6 548.5L189.5 546.5L183.3 543.4L177.1 540.3L170.9 537.2L164.7 534.1L160.5 532.0L156.4 527.9L154.4 521.7L152.3 517.6L149.2 513.5L147.1 507.3L144.0 501.1L142.0 495.9L142.0 490.7L139.9 484.5L136.8 478.4L134.7 472.2L133.7 466.0L132.7 459.8L131.6 455.6L127.5 453.6L124.4 449.5L121.3 445.3L118.2 441.2L115.1 438.1L113.1 435.0L100.0 434.0ZM287.5 227.4L293.7 226.0L302.0 224.7L310.2 225.4L315.4 227.4L316.4 231.5L313.3 235.7L310.2 240.8L309.2 246.0L306.1 249.1L302.0 251.2L297.8 253.2L293.7 256.3L289.6 256.3L285.5 254.3L281.3 252.2L278.2 251.2L277.2 247.0L276.2 241.9L278.2 237.7L281.3 234.6L284.4 230.5ZM495.0 128.7L498.7 130.1L501.2 133.2L500.8 141.5L499.1 149.7L496.7 150.0L495.4 158.3L493.3 164.5L490.5 170.6L486.3 176.8L484.7 183.0L483.0 189.6L480.5 189.2L478.1 182.6L474.8 177.3L471.9 170.6L469.8 164.5L469.8 158.3L471.3 150.0L472.7 148.7L476.8 143.5L480.5 138.4L485.1 133.2L490.5 129.9ZM285.5 577.5L285.5 572.1L282.4 563.0L280.3 556.8L282.4 550.6L285.5 544.4L289.6 538.2L291.6 536.2L293.7 540.3L297.8 541.9L304.0 542.4L309.2 541.3L314.4 543.4L317.5 542.4L319.5 537.2L320.5 532.0L322.6 525.8L324.7 522.7L330.9 521.7L337.1 520.1L343.3 519.2L349.5 517.6L353.6 513.5L357.7 507.3L361.8 503.1L366.0 496.9L368.0 492.8L372.2 493.8L376.3 490.7L380.4 486.6L383.5 485.6L390.7 484.5L393.8 481.5L396.9 477.3L401.1 473.2L405.2 466.0L409.3 459.8L412.4 453.6L414.5 452.5L416.5 456.7L419.6 453.6L422.7 455.6L425.8 461.8L428.9 468.0L431.0 471.1L431.0 469.1L437.2 470.1L443.4 473.2L449.6 477.3L455.8 481.5L454.7 484.5L449.6 485.6L443.4 486.6L439.3 487.6L441.3 491.8L445.5 494.9L441.3 496.9L435.1 496.9L431.0 499.0L431.0 525.8L435.1 532.0L439.3 540.3L445.5 547.5L450.6 552.7L449.6 555.8L443.4 556.8L437.2 554.7L431.0 558.9L431.0 572.1L431.0 577.5ZM466.1 577.5L466.1 572.1L467.1 563.0L470.2 556.8L474.4 553.7L479.5 552.7L482.6 548.5L486.7 547.5L492.9 549.6L499.1 551.6L507.4 552.7L515.6 554.3L523.9 554.7L532.2 553.7L538.4 552.7L543.5 549.6L547.6 545.5L550.7 543.4L554.9 542.4L556.9 545.5L554.9 549.6L550.7 553.7L546.6 557.8L542.5 560.9L536.3 564.0L528.0 565.5L519.8 563.0L513.6 561.3L505.3 560.5L497.1 561.3L488.8 562.0L482.6 563.0L476.4 564.0L472.3 567.1L471.3 572.1L471.3 577.5ZM100.0 508.0L113.1 508.9L118.0 511.3L122.6 515.3L127.3 519.4L129.6 524.0L133.1 527.5L136.5 531.0L141.2 534.5L144.7 537.4L147.0 539.7L151.6 540.3L154.0 541.5L157.5 542.6L162.1 544.4L165.6 547.3L167.9 550.7L171.4 554.2L174.9 557.1L180.7 560.0L183.0 562.4L180.7 564.1L177.2 565.3L176.0 566.4L183.0 564.7L187.6 563.5L192.3 564.7L194.6 569.3L195.2 576.3L126.1 576.3L124.9 569.9L116.8 565.8L114.5 560.0L113.1 550.7L100.0 550.0ZM145.3 532.2L148.7 532.7L149.9 535.6L148.7 538.5L146.4 539.1L145.3 536.2ZM154.0 535.6L157.5 534.5L159.8 536.2L159.2 539.7L156.3 540.9L154.0 539.1ZM166.2 543.8L170.2 544.4L172.5 547.3L171.4 549.6L167.9 548.4ZM172.5 550.7L177.2 551.9L180.7 554.8L181.8 558.3L178.4 557.7L174.9 555.4ZM478.5 251.8L481.8 250.5L484.4 249.5L486.9 250.2L490.2 251.1L492.7 252.4L495.3 254.4L497.9 255.6L501.1 255.4L503.7 254.4L504.4 251.1L505.6 250.5L506.9 253.1L506.3 256.9L505.3 260.8L505.0 264.7L506.0 268.5L508.2 271.8L510.2 275.0L510.8 277.6L509.5 281.5L508.2 285.3L506.3 289.2L503.7 292.4L501.1 294.4L497.9 295.6L495.3 298.2L496.0 301.5L494.7 303.1L493.6 305.4L492.0 307.4L491.6 309.3L493.2 311.6L494.0 314.7L494.7 317.8L495.5 320.9L496.7 324.0L498.2 326.3L500.2 327.9L502.5 329.0L504.8 330.2L506.7 330.6L508.7 328.6L509.8 327.1L511.8 325.9L514.1 325.9L516.4 326.3L518.4 327.1L519.9 328.6L521.1 330.6L523.0 331.7L523.1 332.7L526.9 332.4L530.8 332.7L534.7 334.0L535.3 335.7L532.1 337.3L529.5 338.5L530.8 342.4L532.1 346.3L535.3 347.6L537.9 348.9L538.5 351.5L537.3 354.7L535.3 354.7L533.4 351.5L530.8 348.9L528.2 346.3L525.6 343.7L522.9 339.8L523.0 339.9L520.3 338.3L518.0 336.4L515.6 334.1L513.3 332.1L511.0 331.0L509.5 330.2L508.7 332.5L509.1 334.8L510.2 337.2L511.8 340.3L512.5 343.0L512.5 344.5L511.0 342.6L509.5 340.3L507.5 338.3L505.6 336.4L503.3 334.8L500.9 333.3L499.4 332.5L497.8 333.3L495.9 332.9L494.0 333.7L492.4 335.6L490.9 337.2L488.5 337.5L486.2 336.4L484.3 334.1L482.7 332.9L481.2 332.1L479.6 331.0L479.3 328.6L479.6 326.7L482.0 325.2L483.9 323.6L485.5 322.5L484.7 320.5L483.5 318.6L480.8 318.2L478.1 317.4L477.3 318.6L478.1 320.9L477.7 323.2L476.5 322.5L474.6 320.1L473.1 317.8L471.1 316.6L470.0 315.5L469.2 311.6L468.4 307.7L467.3 303.9L466.5 300.0L465.1 291.1L467.6 293.1L470.8 295.4L475.1 295.0L474.7 291.8L474.3 286.6L475.1 281.5L476.0 276.3L476.4 271.1L476.0 266.0L476.9 260.8L477.3 255.6ZM477.3 341.8L479.6 341.0L482.4 340.6L484.7 341.4L487.0 342.2L489.3 343.7L491.3 345.7L492.8 348.0L493.6 350.7L493.7 350.2L494.4 355.3L492.4 359.2L489.2 361.1L486.6 361.8L485.3 359.2L483.4 355.3L481.5 351.5L480.2 347.6L482.0 350.7L481.2 348.0L479.6 345.7L478.1 343.7ZM500.2 340.3L502.5 339.9L503.6 342.2L502.5 344.5L500.9 344.1L500.0 342.2ZM537.3 331.5L540.5 330.8L542.4 333.4L542.2 336.6L539.8 338.8L537.3 337.3L536.6 334.0ZM500.8 368.9L504.0 370.2L507.9 371.5L511.1 372.7L515.0 373.4L517.6 375.3L520.2 376.6L520.2 379.8L517.6 382.4L515.0 384.4L512.4 386.3L509.8 388.2L506.6 389.5L503.4 390.8L501.5 392.7L500.8 388.9L502.1 385.0L502.7 381.1L503.4 377.3L502.7 373.4L500.8 370.8ZM520.2 384.4L524.0 383.7L526.6 385.0L527.9 387.6L526.6 391.5L524.7 395.3L523.4 399.2L522.1 403.1L522.7 406.9L524.0 410.8L522.7 414.7L520.2 416.6L518.2 414.7L516.3 410.8L513.1 408.2L509.8 405.6L508.8 403.1L511.1 401.1L515.0 400.5L516.9 397.9L517.6 394.0L518.2 390.2L518.9 386.3ZM535.0 381.8L537.6 383.1L536.9 387.6L535.0 392.1L532.4 396.6L530.2 401.1L527.9 405.0L526.0 407.2L524.4 405.6L525.6 401.1L527.3 396.6L529.2 392.1L531.5 387.6L533.1 383.7ZM533.7 401.8L536.9 399.8L540.8 398.5L544.0 399.8L545.3 402.4L544.0 405.0L540.8 406.3L536.9 406.3L534.4 405.0ZM540.8 373.6L544.7 374.0L547.9 376.6L551.8 377.3L553.5 380.5L554.4 384.4L555.0 388.2L556.3 392.1L556.9 395.6L554.4 397.3L551.1 396.4L549.2 393.0L548.5 389.5L546.6 386.5L544.7 383.7L543.1 380.5L541.5 377.3ZM542.1 357.3L547.3 356.6L552.4 356.0L556.3 357.9L558.9 360.5L561.5 364.4L562.7 368.2L562.1 372.1L562.7 376.0L561.5 379.2L558.9 380.5L556.3 378.5L554.4 376.0L552.4 372.7L551.1 369.5L548.5 366.9L546.0 363.7L543.4 360.5ZM524.0 357.9L526.6 357.3L529.2 359.2L531.8 361.8L534.4 364.4L536.3 366.9L536.9 368.9L535.0 368.2L532.4 366.3L529.8 364.4L527.3 363.1L525.3 364.4L523.4 363.1L523.8 360.5ZM560.3 404.7L562.3 406.0L564.8 407.9L567.4 410.5L570.0 413.1L572.6 416.3L574.5 419.5L573.9 422.7L572.6 425.3L575.2 428.5L576.5 432.4L577.1 436.3L579.0 439.5L580.1 443.4L579.7 447.3L577.7 449.8L575.2 452.4L573.9 455.6L573.2 460.8L572.6 463.4L571.3 459.5L571.0 455.6L569.4 451.8L568.1 448.5L567.4 446.0L565.5 445.3L563.5 446.6L561.6 450.5L560.3 454.4L560.3 458.2L562.3 460.8L564.2 463.4L564.8 466.6L563.5 469.8L561.6 472.4L559.7 475.0L557.7 474.4L556.5 471.8L555.8 468.5L553.9 470.5L550.6 470.5L547.4 469.2L544.2 467.3L541.0 465.3L538.4 462.7L537.1 459.5L535.8 455.6L535.8 451.8L537.7 448.5L539.7 446.0L539.0 443.4L536.5 440.8L533.2 438.9L530.0 436.9L528.1 437.6L526.8 440.2L524.8 442.7L522.3 441.5L520.3 440.2L519.0 442.1L517.1 444.7L515.2 442.7L513.9 439.5L511.3 439.5L509.4 442.1L507.4 445.3L506.1 448.5L504.8 451.8L502.9 452.4L501.4 450.5L501.6 447.9L503.5 444.7L504.8 440.8L505.5 437.6L507.4 435.6L510.6 434.4L514.5 433.1L518.4 432.4L519.7 429.8L519.0 427.3L521.6 425.3L524.8 425.3L527.4 424.0L530.0 424.0L531.9 426.0L532.6 429.2L531.9 432.4L534.5 431.8L537.7 430.5L540.3 429.2L541.0 426.6L542.9 425.3L545.5 425.3L548.1 426.0L549.4 422.7L550.0 420.2L552.6 418.9L554.5 419.5L556.5 418.2L558.4 418.9L560.3 418.2L561.6 416.3L561.0 413.1L560.3 409.2ZM457.0 389.1L460.5 388.3L462.0 391.2L460.4 394.3L457.5 396.3L454.9 398.9L451.8 400.7L448.7 401.5L447.6 404.6L446.8 407.7L444.1 410.5L440.9 413.1L437.0 415.7L433.8 418.9L430.4 422.1L426.5 424.8L423.2 427.4L421.5 426.5L421.9 423.4L424.5 420.1L427.8 417.4L431.7 414.8L435.6 412.1L438.2 409.0L441.4 405.6L444.6 402.4L447.8 398.6L450.4 395.4L453.6 392.2L455.7 390.1ZM608.4 528.4L611.9 526.4L615.4 527.8L615.1 531.9L613.3 534.7L609.8 535.6L607.8 533.3ZM601.5 534.0L603.6 535.4L602.9 539.5L604.0 543.7L603.6 548.5L601.5 552.0L605.0 552.0L607.1 548.5L609.8 545.7L614.0 543.7L616.5 545.1L616.1 549.2L614.0 552.0L611.2 554.0L608.4 556.1L606.4 557.5L609.8 559.6L613.3 561.0L616.1 562.4L618.1 565.1L615.4 564.4L612.6 563.0L608.4 562.4L604.3 562.4L602.2 564.4L601.5 569.3L599.4 569.3L598.8 565.8L597.1 563.0L596.3 560.3L597.4 557.5L596.7 554.7L594.3 552.0L594.6 547.8L595.7 543.7L597.1 539.5L599.4 536.1ZM581.9 493.8L584.4 493.6L584.9 498.0L583.0 499.7L581.6 497.3ZM560.3 508.4L563.0 508.8L563.3 512.1L561.1 512.9ZM264.5 503.0L268.0 499.0L271.5 503.0L268.0 508.0ZM500.6 458.2L502.6 456.7L504.8 458.0L504.5 460.2L501.9 460.8ZM527.7 413.7L529.5 413.3L530.0 415.0L528.5 415.6ZM546.5 413.7L548.3 413.3L548.8 415.0L547.3 415.6ZM458.3 378.0L460.4 377.5L461.1 380.3L460.1 384.5L458.5 384.2L458.8 381.0ZM418.3 446.8L421.4 445.9L422.2 448.1L419.6 449.4ZM491.3 235.5L494.6 235.1L495.0 238.4L491.9 238.8ZM500.0 232.2L502.8 232.2L502.8 235.1L500.2 235.1ZM489.2 243.9L492.5 243.9L492.5 246.6L489.6 246.6ZM483.6 467.6L489.8 467.0L491.3 470.1L485.1 471.1ZM468.2 480.8L473.3 478.8L474.8 482.9L469.8 484.5ZM626.0 70.5L629.0 68.5L629.5 69.5L626.5 71.5ZM605.0 101.5L607.0 101.5L605.0 104.5L603.5 104.5Z" fill="#c0c0c0" stroke="#000" stroke-width="1.3" stroke-linejoin="round" shape-rendering="crispEdges"/>
<path d="M466.0 109.0L464.0 115.0L461.0 121.0L456.0 126.0L451.0 131.0L446.0 136.0L441.0 141.0L436.0 146.0L431.0 150.0L425.0 154.0L420.0 158.0L414.0 161.0L409.0 165.0" fill="none" stroke="#000" stroke-width="3.5" stroke-dasharray="4 2 2 3 6 2" shape-rendering="crispEdges"/>
<path d="M502.0 42.0L499.0 48.0L498.0 54.0L499.0 60.0L496.0 64.0L494.0 69.0" fill="none" stroke="#000" stroke-width="4" stroke-dasharray="5 3 3 2" shape-rendering="crispEdges"/>
<path d="M490.0 74.0L486.0 77.0L483.0 82.0L480.0 87.0L476.0 92.0L471.0 97.0L467.0 102.0" fill="none" stroke="#000" stroke-width="2.5" stroke-dasharray="3 4 5 3" shape-rendering="crispEdges"/>
<path d="M404.0 172.0L397.0 175.0L390.0 177.0L384.0 178.0L378.0 178.0L372.0 181.0L365.0 183.0L358.0 185.0L350.0 188.0L344.0 191.0L337.0 193.0L330.0 195.0L324.0 198.0L317.0 201.0L311.0 202.0" fill="none" stroke="#000" stroke-width="2.5" stroke-dasharray="4 5 3 4" shape-rendering="crispEdges"/>
<path d="M270.0 198.0L264.0 199.0L258.0 201.0L252.0 203.0L247.0 206.0L242.0 208.0" fill="none" stroke="#000" stroke-width="2.5" stroke-dasharray="5 4 3 5" shape-rendering="crispEdges"/>
<g fill="#000" shape-rendering="crispEdges"><rect x="497.3" y="38.9" width="4.1" height="1.2"/><rect x="497.4" y="38.4" width="2.5" height="2.2"/><rect x="493.1" y="47.7" width="5.6" height="2.2"/><rect x="495.2" y="46.7" width="3.3" height="4.1"/><rect x="495.2" y="52.5" width="4.8" height="1.8"/><rect x="496.6" y="51.7" width="2.9" height="3.3"/><rect x="493.0" y="56.8" width="3.3" height="1.4"/><rect x="493.7" y="56.2" width="2.0" height="2.6"/><rect x="498.0" y="62.8" width="2.6" height="1.0"/><rect x="498.3" y="62.4" width="1.6" height="1.9"/><rect x="486.2" y="70.6" width="4.1" height="1.6"/><rect x="486.3" y="69.9" width="2.5" height="3.0"/><rect x="478.3" y="76.0" width="2.6" height="0.8"/><rect x="479.3" y="75.7" width="1.6" height="1.5"/><rect x="484.6" y="79.1" width="1.5" height="0.8"/><rect x="485.8" y="86.7" width="1.5" height="0.8"/><rect x="473.6" y="92.4" width="2.6" height="1.0"/><rect x="473.9" y="92.0" width="1.6" height="1.9"/><rect x="460.7" y="100.3" width="5.2" height="2.7"/><rect x="460.8" y="99.2" width="3.1" height="4.8"/><rect x="463.4" y="106.3" width="3.3" height="2.2"/><rect x="464.7" y="105.4" width="2.0" height="4.1"/><rect x="448.1" y="46.9" width="3.7" height="0.7"/><rect x="449.2" y="46.6" width="2.2" height="1.3"/><rect x="505.7" y="59.5" width="1.2" height="0.7"/><rect x="473.8" y="102.4" width="1.2" height="0.7"/><rect x="476.0" y="107.7" width="1.3" height="0.7"/><rect x="461.4" y="100.9" width="7.3" height="4.7"/><rect x="464.2" y="99.0" width="4.4" height="8.6"/><rect x="465.5" y="110.6" width="3.3" height="1.8"/><rect x="466.4" y="109.9" width="2.0" height="3.3"/><rect x="457.7" y="122.7" width="8.6" height="2.5"/><rect x="459.4" y="121.6" width="5.2" height="4.6"/><rect x="451.8" y="126.1" width="5.9" height="1.8"/><rect x="452.4" y="125.4" width="3.6" height="3.3"/><rect x="444.5" y="133.2" width="5.9" height="2.2"/><rect x="444.7" y="132.3" width="3.6" height="4.0"/><rect x="432.5" y="142.5" width="7.3" height="2.2"/><rect x="435.3" y="141.6" width="4.4" height="4.0"/><rect x="448.6" y="47.2" width="4.0" height="0.7"/><rect x="449.8" y="46.9" width="2.4" height="1.3"/><rect x="459.7" y="155.9" width="4.6" height="2.2"/><rect x="460.6" y="155.0" width="2.8" height="4.0"/><rect x="484.8" y="73.7" width="4.0" height="1.5"/><rect x="485.2" y="73.1" width="2.4" height="2.6"/><rect x="478.9" y="79.9" width="3.3" height="1.5"/><rect x="479.0" y="79.3" width="2.0" height="2.6"/><rect x="472.5" y="105.9" width="1.7" height="0.9"/><rect x="475.8" y="107.7" width="1.3" height="0.7"/><rect x="420.5" y="153.2" width="8.6" height="1.8"/><rect x="422.2" y="152.5" width="5.2" height="3.3"/><rect x="412.2" y="158.4" width="6.6" height="1.8"/><rect x="412.9" y="157.6" width="4.0" height="3.3"/><rect x="408.7" y="163.1" width="3.3" height="1.8"/><rect x="408.8" y="162.4" width="2.0" height="3.3"/><rect x="364.1" y="181.2" width="7.9" height="2.9"/><rect x="367.1" y="180.0" width="4.8" height="5.3"/><rect x="372.9" y="177.1" width="4.6" height="1.5"/><rect x="374.3" y="176.5" width="2.8" height="2.6"/><rect x="359.5" y="172.8" width="2.6" height="4.0"/><rect x="360.0" y="171.1" width="1.6" height="7.3"/><rect x="355.4" y="169.9" width="2.6" height="1.5"/><rect x="355.6" y="169.3" width="1.6" height="2.6"/><rect x="350.2" y="181.8" width="2.6" height="2.5"/><rect x="350.2" y="180.7" width="1.6" height="4.6"/><rect x="346.4" y="172.0" width="2.0" height="0.7"/><rect x="338.9" y="190.7" width="4.6" height="1.1"/><rect x="340.2" y="190.3" width="2.8" height="2.0"/><rect x="328.6" y="193.2" width="4.6" height="1.1"/><rect x="329.5" y="192.8" width="2.8" height="2.0"/><rect x="302.9" y="203.1" width="2.3" height="3.3"/><rect x="303.1" y="201.7" width="1.4" height="5.9"/><rect x="305.1" y="211.0" width="2.0" height="1.8"/><rect x="305.1" y="210.3" width="1.2" height="3.3"/><rect x="290.0" y="193.8" width="3.3" height="1.1"/><rect x="291.2" y="193.4" width="2.0" height="2.0"/><rect x="272.2" y="192.6" width="5.9" height="1.5"/><rect x="273.9" y="192.0" width="3.6" height="2.6"/><rect x="282.1" y="197.4" width="2.6" height="0.9"/><rect x="282.6" y="197.1" width="1.6" height="1.7"/><rect x="412.2" y="212.0" width="1.7" height="0.7"/><rect x="244.0" y="207.5" width="10.6" height="1.8"/><rect x="244.2" y="206.8" width="6.3" height="3.3"/><rect x="256.0" y="198.7" width="5.3" height="2.5"/><rect x="258.0" y="197.6" width="3.2" height="4.6"/><rect x="262.5" y="196.3" width="4.6" height="1.5"/><rect x="263.8" y="195.7" width="2.8" height="2.6"/><rect x="232.2" y="212.2" width="1.2" height="0.7"/><rect x="459.0" y="158.6" width="4.0" height="2.5"/><rect x="459.4" y="157.6" width="2.4" height="4.6"/><rect x="456.1" y="163.0" width="2.6" height="0.9"/><rect x="456.2" y="162.6" width="1.6" height="1.7"/><rect x="499.3" y="209.4" width="1.7" height="1.8"/><rect x="500.0" y="208.6" width="1.0" height="3.3"/><rect x="499.5" y="217.5" width="3.3" height="1.3"/><rect x="500.5" y="217.0" width="2.0" height="2.3"/><rect x="492.7" y="176.5" width="1.2" height="0.7"/><rect x="492.6" y="187.7" width="2.6" height="0.9"/><rect x="492.9" y="187.4" width="1.6" height="1.7"/><rect x="488.0" y="239.9" width="1.7" height="1.8"/><rect x="488.0" y="239.2" width="1.0" height="3.3"/><rect x="499.7" y="244.2" width="3.0" height="1.6"/><rect x="500.8" y="243.5" width="1.8" height="3.0"/><rect x="531.1" y="145.7" width="4.0" height="1.8"/><rect x="532.3" y="145.0" width="2.4" height="3.3"/><rect x="538.3" y="143.1" width="3.3" height="1.6"/><rect x="538.9" y="142.5" width="2.0" height="3.0"/><rect x="555.1" y="136.3" width="4.0" height="2.2"/><rect x="555.5" y="135.4" width="2.4" height="4.0"/><rect x="547.5" y="139.0" width="1.3" height="0.9"/><rect x="526.1" y="120.4" width="1.7" height="0.9"/><rect x="518.6" y="143.2" width="1.3" height="0.7"/><rect x="503.2" y="121.5" width="1.2" height="0.7"/><rect x="618.3" y="80.4" width="2.1" height="1.6"/><rect x="618.5" y="79.8" width="1.2" height="2.9"/><rect x="612.1" y="88.1" width="2.9" height="0.8"/><rect x="612.2" y="87.7" width="1.7" height="1.4"/><rect x="602.2" y="94.7" width="2.1" height="0.9"/><rect x="597.1" y="106.6" width="4.5" height="3.0"/><rect x="598.4" y="105.4" width="2.7" height="5.4"/><rect x="592.4" y="110.1" width="6.2" height="1.1"/><rect x="593.6" y="109.6" width="3.7" height="2.1"/><rect x="581.8" y="108.0" width="2.9" height="0.7"/><rect x="582.1" y="107.7" width="1.7" height="1.2"/><rect x="623.0" y="54.8" width="1.7" height="0.7"/><rect x="606.5" y="79.6" width="1.2" height="0.7"/><rect x="635.9" y="70.3" width="1.2" height="0.7"/><rect x="610.3" y="94.6" width="1.2" height="0.7"/><rect x="158.5" y="354.8" width="2.0" height="0.7"/><rect x="170.6" y="367.3" width="2.6" height="2.5"/><rect x="170.6" y="366.2" width="1.6" height="4.6"/><rect x="187.1" y="382.5" width="4.6" height="2.2"/><rect x="188.9" y="381.6" width="2.8" height="4.0"/><rect x="195.4" y="392.6" width="2.6" height="1.5"/><rect x="196.1" y="392.0" width="1.6" height="2.6"/><rect x="181.6" y="394.0" width="1.2" height="0.7"/><rect x="121.1" y="410.0" width="4.6" height="1.8"/><rect x="121.6" y="409.2" width="2.8" height="3.3"/><rect x="128.6" y="406.7" width="2.0" height="2.2"/><rect x="128.6" y="405.8" width="1.2" height="4.0"/><rect x="203.2" y="405.3" width="1.3" height="0.7"/><rect x="242.3" y="421.8" width="1.7" height="0.9"/><rect x="234.0" y="405.3" width="1.7" height="0.9"/><rect x="178.5" y="401.3" width="1.2" height="0.7"/><rect x="324.3" y="287.9" width="1.7" height="0.7"/><rect x="282.4" y="306.7" width="2.0" height="0.7"/><rect x="281.1" y="391.5" width="1.3" height="0.7"/><rect x="285.5" y="358.3" width="2.0" height="1.8"/><rect x="285.9" y="357.6" width="1.2" height="3.3"/><rect x="284.6" y="367.5" width="1.7" height="2.2"/><rect x="284.8" y="366.6" width="1.0" height="4.0"/><rect x="240.6" y="420.8" width="3.7" height="1.5"/><rect x="240.7" y="420.2" width="2.2" height="2.7"/><rect x="224.8" y="516.9" width="5.3" height="2.3"/><rect x="226.9" y="516.0" width="3.2" height="4.3"/><rect x="232.4" y="512.7" width="4.8" height="4.1"/><rect x="233.8" y="511.1" width="2.9" height="7.5"/><rect x="236.2" y="520.7" width="2.7" height="1.5"/><rect x="236.7" y="520.1" width="1.6" height="2.7"/><rect x="278.0" y="519.4" width="2.1" height="2.1"/><rect x="278.3" y="518.6" width="1.3" height="3.7"/><rect x="255.1" y="552.0" width="2.7" height="0.9"/><rect x="255.2" y="551.6" width="1.6" height="1.6"/><rect x="281.6" y="525.3" width="1.6" height="0.9"/><rect x="276.6" y="556.0" width="1.6" height="0.9"/><rect x="209.5" y="402.5" width="2.7" height="1.5"/><rect x="210.1" y="401.9" width="1.6" height="2.7"/><rect x="187.4" y="382.3" width="3.7" height="2.1"/><rect x="187.8" y="381.4" width="2.2" height="3.7"/><rect x="143.7" y="502.7" width="1.9" height="0.8"/><rect x="130.0" y="524.9" width="2.6" height="1.0"/><rect x="131.0" y="524.5" width="1.6" height="1.9"/><rect x="184.0" y="560.6" width="2.6" height="1.2"/><rect x="184.8" y="560.1" width="1.6" height="2.2"/><rect x="176.7" y="565.3" width="5.6" height="0.7"/><rect x="177.8" y="565.0" width="3.3" height="1.2"/><rect x="188.6" y="546.5" width="7.4" height="2.7"/><rect x="189.4" y="545.4" width="4.5" height="4.8"/><rect x="194.1" y="553.3" width="5.6" height="4.1"/><rect x="194.3" y="551.7" width="3.3" height="7.4"/><rect x="193.4" y="562.6" width="4.8" height="4.1"/><rect x="195.2" y="561.0" width="2.9" height="7.4"/><rect x="123.8" y="458.1" width="3.3" height="2.5"/><rect x="124.8" y="457.0" width="2.0" height="4.6"/><rect x="132.9" y="478.7" width="1.7" height="1.5"/><rect x="133.2" y="478.1" width="1.0" height="2.6"/><rect x="195.9" y="523.3" width="1.7" height="0.9"/><rect x="198.9" y="531.5" width="1.7" height="1.1"/><rect x="206.3" y="528.6" width="1.3" height="0.7"/><rect x="194.7" y="545.8" width="4.0" height="1.5"/><rect x="195.8" y="545.2" width="2.4" height="2.6"/><rect x="201.3" y="552.9" width="7.3" height="3.6"/><rect x="202.8" y="551.4" width="4.4" height="6.6"/><rect x="198.9" y="559.7" width="5.9" height="2.5"/><rect x="199.5" y="558.6" width="3.6" height="4.6"/><rect x="232.2" y="515.3" width="5.3" height="2.5"/><rect x="232.3" y="514.2" width="3.2" height="4.6"/><rect x="226.7" y="518.7" width="4.0" height="1.8"/><rect x="228.2" y="518.0" width="2.4" height="3.3"/><rect x="235.1" y="522.9" width="1.7" height="0.9"/><rect x="264.0" y="489.9" width="1.7" height="0.9"/><rect x="264.8" y="505.5" width="2.0" height="1.5"/><rect x="265.1" y="504.9" width="1.2" height="2.6"/><rect x="255.2" y="552.8" width="2.6" height="0.9"/><rect x="255.3" y="552.5" width="1.6" height="1.7"/><rect x="247.6" y="559.0" width="1.3" height="0.7"/><rect x="415.7" y="447.5" width="4.6" height="1.8"/><rect x="417.0" y="446.8" width="2.8" height="3.3"/><rect x="414.2" y="437.4" width="2.6" height="1.5"/><rect x="414.7" y="436.8" width="1.6" height="2.6"/><rect x="321.3" y="524.9" width="2.6" height="4.0"/><rect x="321.6" y="523.2" width="1.6" height="7.3"/><rect x="386.4" y="480.5" width="6.6" height="1.8"/><rect x="386.5" y="479.8" width="4.0" height="3.3"/><rect x="385.7" y="485.1" width="4.0" height="0.9"/><rect x="387.2" y="484.8" width="2.4" height="1.7"/><rect x="279.5" y="520.0" width="1.7" height="1.5"/><rect x="279.9" y="519.4" width="1.0" height="2.6"/><rect x="282.4" y="527.5" width="2.0" height="0.7"/><rect x="277.4" y="557.4" width="1.7" height="0.9"/><rect x="423.6" y="499.6" width="6.6" height="2.9"/><rect x="423.7" y="498.4" width="4.0" height="5.3"/><rect x="418.8" y="509.1" width="9.9" height="2.5"/><rect x="422.6" y="508.0" width="5.9" height="4.6"/><rect x="425.6" y="514.9" width="4.6" height="3.3"/><rect x="426.9" y="513.6" width="2.8" height="5.9"/><rect x="429.7" y="534.2" width="1.3" height="1.8"/><rect x="430.0" y="533.5" width="0.8" height="3.3"/><rect x="405.4" y="456.2" width="1.7" height="0.9"/><rect x="398.2" y="467.6" width="1.7" height="0.9"/><rect x="438.7" y="488.4" width="7.3" height="2.5"/><rect x="441.5" y="487.4" width="4.4" height="4.6"/><rect x="442.1" y="494.0" width="4.6" height="1.8"/><rect x="443.4" y="493.2" width="2.8" height="3.3"/><rect x="433.5" y="471.6" width="3.3" height="1.1"/><rect x="434.1" y="471.2" width="2.0" height="2.0"/><rect x="458.0" y="488.4" width="1.7" height="1.5"/><rect x="458.2" y="487.8" width="1.0" height="2.6"/><rect x="464.4" y="487.9" width="1.3" height="0.7"/><rect x="443.4" y="532.5" width="2.0" height="1.1"/><rect x="475.1" y="463.0" width="4.6" height="1.8"/><rect x="476.5" y="462.3" width="2.8" height="3.3"/><rect x="493.0" y="455.3" width="2.0" height="0.7"/><rect x="497.5" y="465.7" width="3.3" height="1.5"/><rect x="497.8" y="465.1" width="2.0" height="2.6"/><rect x="479.6" y="475.4" width="4.0" height="1.8"/><rect x="479.7" y="474.6" width="2.4" height="3.3"/><rect x="470.4" y="470.1" width="1.7" height="0.9"/><rect x="459.2" y="465.6" width="1.3" height="0.7"/><rect x="481.0" y="459.9" width="1.2" height="0.7"/><rect x="518.1" y="548.6" width="1.3" height="0.7"/><rect x="502.7" y="473.5" width="1.2" height="0.7"/><rect x="608.9" y="510.0" width="2.3" height="0.7"/><rect x="606.4" y="517.3" width="1.2" height="0.7"/><rect x="604.5" y="523.6" width="1.7" height="1.1"/><rect x="603.9" y="530.6" width="2.0" height="0.7"/><rect x="604.7" y="534.8" width="1.3" height="0.7"/><rect x="587.6" y="490.3" width="1.7" height="0.9"/><rect x="551.0" y="540.4" width="4.6" height="1.8"/><rect x="552.4" y="539.7" width="2.8" height="3.3"/><rect x="547.9" y="541.8" width="2.6" height="1.1"/><rect x="548.4" y="541.4" width="1.6" height="2.0"/><rect x="514.8" y="442.2" width="2.6" height="2.2"/><rect x="515.1" y="441.3" width="1.6" height="4.0"/><rect x="520.3" y="441.5" width="2.0" height="1.5"/><rect x="520.4" y="440.9" width="1.2" height="2.6"/><rect x="564.7" y="447.5" width="2.0" height="1.8"/><rect x="565.5" y="446.8" width="1.2" height="3.3"/><rect x="572.3" y="454.7" width="1.3" height="1.8"/><rect x="572.7" y="454.0" width="0.8" height="3.3"/><rect x="558.5" y="477.5" width="2.0" height="0.9"/><rect x="481.1" y="475.6" width="4.0" height="1.5"/><rect x="481.6" y="475.0" width="2.4" height="2.6"/><rect x="497.3" y="466.5" width="2.6" height="1.1"/><rect x="497.3" y="466.0" width="1.6" height="2.0"/><rect x="578.5" y="476.0" width="1.3" height="0.7"/><rect x="417.6" y="431.3" width="5.0" height="2.5"/><rect x="419.1" y="430.3" width="3.0" height="4.5"/><rect x="416.9" y="435.4" width="2.1" height="1.4"/><rect x="417.3" y="434.8" width="1.2" height="2.5"/><rect x="455.2" y="378.6" width="4.1" height="3.4"/><rect x="455.6" y="377.2" width="2.5" height="6.2"/><rect x="461.0" y="381.5" width="2.9" height="1.6"/><rect x="461.0" y="380.8" width="1.7" height="2.9"/><rect x="464.2" y="390.0" width="1.7" height="0.7"/><rect x="450.9" y="391.4" width="2.5" height="1.1"/><rect x="451.6" y="390.9" width="1.5" height="2.1"/><rect x="480.3" y="376.0" width="1.7" height="0.9"/><rect x="479.2" y="378.1" width="1.2" height="0.7"/><rect x="472.8" y="388.4" width="1.2" height="0.7"/><rect x="440.7" y="451.2" width="2.1" height="0.7"/><rect x="387.0" y="428.0" width="1.2" height="0.7"/><rect x="467.8" y="370.6" width="2.1" height="0.9"/><rect x="415.1" y="446.9" width="1.7" height="1.1"/><rect x="461.0" y="373.3" width="2.9" height="1.1"/><rect x="461.0" y="372.8" width="1.7" height="2.1"/><rect x="470.2" y="316.7" width="2.5" height="1.1"/><rect x="471.2" y="316.2" width="1.5" height="2.1"/><rect x="473.6" y="319.4" width="2.1" height="0.9"/><rect x="499.9" y="314.9" width="2.5" height="2.0"/><rect x="500.4" y="314.1" width="1.5" height="3.7"/><rect x="501.8" y="324.0" width="1.2" height="0.7"/><rect x="516.9" y="322.6" width="2.1" height="0.9"/><rect x="505.1" y="329.1" width="2.5" height="0.9"/><rect x="506.0" y="328.7" width="1.5" height="1.7"/><rect x="521.6" y="329.7" width="2.9" height="0.9"/><rect x="522.5" y="329.3" width="1.7" height="1.7"/><rect x="527.0" y="331.6" width="3.7" height="0.9"/><rect x="527.8" y="331.3" width="2.2" height="1.7"/><rect x="530.4" y="342.1" width="3.3" height="0.7"/><rect x="530.8" y="341.8" width="2.0" height="1.2"/><rect x="533.3" y="345.2" width="4.1" height="0.9"/><rect x="533.3" y="344.8" width="2.5" height="1.7"/><rect x="535.8" y="348.8" width="2.9" height="1.4"/><rect x="536.9" y="348.3" width="1.7" height="2.5"/><rect x="466.8" y="364.2" width="5.4" height="3.0"/><rect x="468.4" y="363.0" width="3.2" height="5.4"/><rect x="466.1" y="368.9" width="2.9" height="1.1"/><rect x="466.7" y="368.5" width="1.7" height="2.1"/><rect x="471.7" y="360.7" width="2.1" height="0.9"/><rect x="491.9" y="364.4" width="1.7" height="1.1"/><rect x="493.4" y="367.9" width="1.2" height="0.7"/><rect x="480.9" y="375.5" width="1.7" height="0.9"/><rect x="483.7" y="379.5" width="1.2" height="0.7"/><rect x="488.3" y="383.4" width="1.2" height="0.7"/><rect x="479.9" y="382.7" width="1.2" height="0.7"/><rect x="496.6" y="349.2" width="1.2" height="0.7"/><rect x="502.5" y="356.6" width="1.2" height="1.4"/><rect x="502.8" y="356.0" width="0.7" height="2.5"/><rect x="508.9" y="355.5" width="1.2" height="0.9"/><rect x="523.1" y="364.7" width="1.2" height="0.7"/><rect x="536.6" y="365.1" width="1.2" height="1.1"/><rect x="541.6" y="369.2" width="1.7" height="0.7"/><rect x="546.1" y="370.0" width="2.9" height="1.6"/><rect x="547.0" y="369.4" width="1.7" height="2.9"/><rect x="539.7" y="374.2" width="1.7" height="0.9"/><rect x="528.7" y="378.6" width="4.1" height="1.1"/><rect x="529.2" y="378.2" width="2.5" height="2.1"/><rect x="524.8" y="371.8" width="1.7" height="0.7"/><rect x="499.2" y="339.5" width="1.2" height="0.7"/><rect x="483.5" y="329.8" width="1.7" height="0.7"/><rect x="471.3" y="335.0" width="2.9" height="0.7"/><rect x="471.9" y="334.7" width="1.7" height="1.2"/><rect x="478.4" y="333.7" width="1.7" height="0.7"/><rect x="496.3" y="349.8" width="1.2" height="0.7"/><rect x="500.2" y="350.4" width="1.2" height="0.9"/><rect x="502.1" y="358.5" width="1.2" height="1.4"/><rect x="502.5" y="358.0" width="0.7" height="2.5"/><rect x="491.6" y="364.7" width="1.7" height="0.7"/><rect x="493.7" y="367.9" width="1.2" height="0.7"/><rect x="481.5" y="375.6" width="1.2" height="0.7"/><rect x="483.4" y="378.7" width="1.2" height="0.9"/><rect x="485.6" y="359.9" width="2.1" height="1.1"/><rect x="523.4" y="356.8" width="1.2" height="0.9"/><rect x="529.0" y="354.1" width="1.7" height="1.1"/><rect x="534.8" y="350.4" width="1.7" height="0.9"/><rect x="536.1" y="359.5" width="1.7" height="0.7"/><rect x="538.5" y="364.7" width="2.1" height="0.7"/><rect x="540.4" y="368.5" width="2.1" height="0.7"/><rect x="546.6" y="367.2" width="1.2" height="0.7"/><rect x="548.4" y="370.7" width="2.9" height="1.6"/><rect x="548.5" y="370.0" width="1.7" height="2.9"/><rect x="542.6" y="372.3" width="1.7" height="0.9"/><rect x="532.9" y="378.6" width="2.9" height="1.1"/><rect x="533.7" y="378.2" width="1.7" height="2.1"/><rect x="531.2" y="379.5" width="1.2" height="0.7"/><rect x="540.7" y="388.4" width="2.9" height="0.9"/><rect x="541.0" y="388.0" width="1.7" height="1.7"/><rect x="544.3" y="385.8" width="2.1" height="0.9"/><rect x="551.6" y="394.1" width="1.7" height="1.1"/><rect x="554.4" y="395.6" width="1.2" height="0.7"/><rect x="561.9" y="392.8" width="1.7" height="1.1"/><rect x="563.0" y="383.3" width="2.1" height="0.9"/><rect x="564.7" y="387.9" width="1.2" height="0.7"/><rect x="562.4" y="400.8" width="3.3" height="2.0"/><rect x="563.6" y="399.9" width="2.0" height="3.7"/><rect x="566.0" y="404.2" width="2.5" height="1.6"/><rect x="566.7" y="403.6" width="1.5" height="2.9"/><rect x="569.2" y="401.1" width="1.2" height="1.4"/><rect x="569.5" y="400.5" width="0.7" height="2.5"/><rect x="530.5" y="407.3" width="1.2" height="0.7"/><rect x="527.3" y="414.3" width="2.5" height="0.7"/><rect x="527.4" y="414.1" width="1.5" height="1.2"/><rect x="547.1" y="413.7" width="1.7" height="0.7"/><rect x="512.5" y="394.3" width="1.2" height="0.7"/><rect x="488.6" y="406.6" width="1.2" height="0.7"/><rect x="501.5" y="395.0" width="1.2" height="0.7"/><rect x="558.3" y="415.6" width="1.2" height="0.7"/><rect x="516.3" y="444.1" width="1.7" height="1.1"/><rect x="520.1" y="440.4" width="1.7" height="0.9"/><rect x="524.2" y="443.0" width="1.2" height="0.7"/><rect x="538.0" y="444.3" width="2.1" height="0.7"/><rect x="565.1" y="446.7" width="2.1" height="1.1"/><rect x="564.9" y="450.8" width="1.2" height="0.7"/><rect x="572.0" y="456.1" width="1.2" height="1.6"/><rect x="572.3" y="455.5" width="0.7" height="2.9"/><rect x="557.1" y="470.8" width="1.2" height="0.7"/><rect x="558.6" y="477.3" width="2.1" height="0.7"/><rect x="571.5" y="423.6" width="2.1" height="0.9"/><rect x="493.0" y="455.3" width="1.7" height="0.7"/><rect x="495.6" y="459.2" width="1.7" height="0.7"/><rect x="498.0" y="465.0" width="2.1" height="0.7"/><rect x="491.8" y="469.5" width="1.7" height="0.7"/><rect x="508.7" y="457.3" width="1.2" height="0.7"/></g>
<path d="M111.0 168.2L120.3 168.6L123.0 170.6L120.3 172.7L119.7 178.9L117.2 183.0L118.2 186.7L126.5 187.8L130.6 189.2L131.6 194.4L134.7 198.5L142.0 198.5L146.1 194.4L149.8 193.8M149.8 193.8L150.2 200.6L155.4 203.3L160.5 204.1L160.5 194.4L158.5 191.3L156.8 184.1L159.5 180.6L165.7 181.4M165.7 181.4L167.8 181.0L171.9 175.2L177.1 176.8L182.2 181.0L187.4 174.8L190.5 177.9L192.5 175.8L197.7 179.9L200.8 175.8L203.9 174.8L208.0 172.7L211.1 173.1L212.2 168.6L220.4 164.0L224.5 168.6L229.7 171.7L236.9 172.3L243.1 171.7L245.2 175.8L242.1 179.9L243.1 187.2L247.3 190.3L253.5 194.4L259.6 195.8L264.8 196.5L267.9 195.8M149.8 193.8L147.1 199.5L142.0 201.6L139.9 207.8L132.7 211.9L131.6 218.1M131.6 218.1L126.5 218.1L121.3 219.2L120.3 223.3L111.0 226.4M131.6 218.1L133.7 219.2L137.8 222.3L136.8 229.5L139.9 233.6L151.3 233.2L152.3 240.8L149.2 249.1L149.2 257.4L146.1 267.7L149.2 270.2L156.4 264.6L164.7 257.4L169.8 259.4L175.0 263.5L182.2 259.4L187.4 253.2L197.7 255.3L203.9 261.5L211.1 269.7L211.5 286.3L210.1 287.0L216.3 292.2L223.5 296.3L224.5 303.5L223.5 311.8L223.5 320.0L219.4 324.2L216.3 325.2M165.7 181.4L167.8 184.1L172.9 190.3L178.1 194.4L180.2 198.5L179.1 202.6L183.3 209.9L193.6 211.9L199.8 207.8L206.0 211.9L207.0 218.1L212.2 221.2L214.2 224.3L212.2 229.5L199.8 231.5L196.7 237.7L208.0 242.9L218.4 250.1L217.3 255.3L223.5 259.4L228.7 265.6L234.9 273.9L241.1 282.1L243.1 287.1L247.3 287.0L251.4 289.1L255.5 293.2L253.5 297.3L255.5 303.5L259.6 307.6L258.6 311.8L257.6 319.0L255.5 321.1M177.1 363.4L175.0 359.3L172.9 355.1L170.9 346.9L169.8 339.6L172.9 336.5L177.1 331.4L182.2 326.2L193.6 324.2L208.0 323.7L214.2 324.2L216.3 325.2L217.3 327.3L223.5 325.2L228.7 328.3L229.7 331.4L234.9 325.2L240.0 322.1L245.2 326.2L251.4 324.2L255.5 321.1L256.5 328.3L257.6 336.5L258.6 346.9L258.6 359.3L253.5 362.4L247.3 364.4L240.0 366.5L232.8 369.6L229.7 372.7L230.7 377.8L234.9 383.0L233.8 386.1L227.6 384.0L222.5 383.0L218.4 386.1L216.3 390.2L212.2 396.4M111.0 331.4L116.2 336.5L117.2 346.9L120.3 357.2L123.4 367.5L125.5 371.6L121.3 377.8L116.2 384.0L111.0 387.1M133.7 456.7L136.8 458.7L142.0 460.8L146.1 463.9L148.2 469.1L147.7 473.2L151.3 474.2L154.4 472.2L158.5 471.1L161.6 473.2L163.6 469.1L165.7 467.0M291.6 536.2L293.7 541.3L297.8 547.5L304.0 552.7L308.2 555.8L314.4 553.7L322.6 552.7L330.9 552.7L336.0 549.6L337.1 545.5L342.2 543.4L349.5 543.4L352.5 546.5L357.7 547.5L361.8 548.5L367.0 546.5L372.2 545.5L377.3 544.4L379.4 538.2L380.4 533.1L385.6 528.9L386.6 522.7L388.7 518.6L392.8 515.5L393.8 509.3L394.9 503.1L395.9 499.0L401.1 496.9L411.4 496.5L419.6 496.9L425.8 495.9L431.0 496.9M368.0 492.8L372.2 494.9L376.3 501.1L379.4 502.1L380.4 494.9L383.5 487.6M385.6 488.7L386.6 495.9L389.7 496.9L388.7 489.7M300.9 163.4L303.0 159.3L307.1 161.4L313.3 164.0L317.5 162.4L322.6 162.0" fill="none" stroke="#000" stroke-width="1" stroke-linejoin="round" shape-rendering="crispEdges"/>
<path d="M229.7 315.9L230.7 328.3L231.8 340.7L232.8 348.9L231.8 359.3M212.2 366.5L218.4 365.5L223.5 363.4M214.2 373.7L216.3 379.9L218.4 386.1L222.5 390.2M245.2 384.0L246.2 390.2L243.1 394.4" fill="none" stroke="#000" stroke-width="1" stroke-dasharray="3 3" shape-rendering="crispEdges"/>
</g>
<path d="M112 37H638V571H112Z" fill="none" stroke="#000" stroke-width="2"/>
<path d="M130.5 38v5M130.5 570v-4M164.5 38v5M164.5 570v-4M198.5 38v5M198.5 570v-4M231.5 38v5M231.5 570v-4M265.5 38v5M265.5 570v-4M299.5 38v5M299.5 570v-4M333.5 38v5M333.5 570v-4M366.5 38v5M366.5 570v-4M400.5 38v5M400.5 570v-4M434.5 38v5M434.5 570v-4M468.5 38v5M468.5 570v-4M502.5 38v5M502.5 570v-4M536.5 38v5M536.5 570v-4M569.5 38v5M569.5 570v-4M603.5 38v5M603.5 570v-4M113 536.5h5M637 536.5h-4M113 502.5h5M637 502.5h-4M113 468.5h5M637 468.5h-4M113 434.5h5M637 434.5h-4M113 400.5h5M637 400.5h-4M113 366.5h5M637 366.5h-4M113 331.5h5M637 331.5h-4M113 296.5h5M637 296.5h-4M113 261.5h5M637 261.5h-4M113 225.5h5M637 225.5h-4M113 189.5h5M637 189.5h-4M113 152.5h5M637 152.5h-4M113 115.5h5M637 115.5h-4M113 77.5h5M637 77.5h-4" stroke="#000" stroke-width="1" fill="none" shape-rendering="crispEdges"/>
<text x="375.5" y="19.5" font-size="13" text-anchor="middle" textLength="254" lengthAdjust="spacing">Significant Wave Height with Wave Direction</text>
<text x="376" y="31" font-size="12" text-anchor="middle" font-style="italic" textLength="183" lengthAdjust="spacing">Valid For Mar-20-2015 18:00 GMT</text>
<text x="134" y="588" font-size="11" text-anchor="middle" font-style="italic">100 E</text>
<text x="218" y="588" font-size="11" text-anchor="middle" font-style="italic">105 E</text>
<text x="303" y="588" font-size="11" text-anchor="middle" font-style="italic">110 E</text>
<text x="387" y="588" font-size="11" text-anchor="middle" font-style="italic">115 E</text>
<text x="472" y="588" font-size="11" text-anchor="middle" font-style="italic">120 E</text>
<text x="556" y="588" font-size="11" text-anchor="middle" font-style="italic">125 E</text>
<text x="641" y="588" font-size="11" text-anchor="middle" font-style="italic">130 E</text>
<text x="646" y="574" font-size="11" text-anchor="start" font-style="italic">0</text>
<text x="646" y="489" font-size="11" text-anchor="start" font-style="italic">5 N</text>
<text x="646" y="404" font-size="11" text-anchor="start" font-style="italic">10 N</text>
<text x="646" y="318" font-size="11" text-anchor="start" font-style="italic">15 N</text>
<text x="646" y="229" font-size="11" text-anchor="start" font-style="italic">20 N</text>
<text x="646" y="137" font-size="11" text-anchor="start" font-style="italic">25 N</text>
<text x="646" y="42" font-size="11" text-anchor="start" font-style="italic">30 N</text>
<text x="113.5" y="601.5" font-size="11" text-anchor="start" textLength="90" lengthAdjust="spacing">oceanweather inc.</text>
<text x="637.5" y="598.5" font-size="8" text-anchor="end" font-style="italic" textLength="116" lengthAdjust="spacing">Plotted at Mar 20, 2015 11:50 GMT</text>
<g shape-rendering="crispEdges"><rect x="255" y="629" width="2" height="13" fill="#000"/><rect x="257.0" y="629" width="3.3" height="13" fill="#0006ff"/><rect x="260.0" y="629" width="3.3" height="13" fill="#0013ff"/><rect x="263.0" y="629" width="3.3" height="13" fill="#0020ff"/><rect x="266.0" y="629" width="3.3" height="13" fill="#002dff"/><rect x="268.9" y="629" width="3.3" height="13" fill="#0039ff"/><rect x="271.9" y="629" width="3.3" height="13" fill="#0046ff"/><rect x="274.9" y="629" width="3.3" height="13" fill="#0053ff"/><rect x="277.9" y="629" width="3.3" height="13" fill="#0060ff"/><rect x="280.9" y="629" width="3.3" height="13" fill="#006cff"/><rect x="283.9" y="629" width="3.3" height="13" fill="#0079ff"/><rect x="286.9" y="629" width="3.3" height="13" fill="#0086ff"/><rect x="289.9" y="629" width="3.3" height="13" fill="#0093ff"/><rect x="292.9" y="629" width="3.3" height="13" fill="#009fff"/><rect x="295.8" y="629" width="3.3" height="13" fill="#00acff"/><rect x="298.8" y="629" width="3.3" height="13" fill="#00b9ff"/><rect x="301.8" y="629" width="3.3" height="13" fill="#00c6ff"/><rect x="304.8" y="629" width="3.3" height="13" fill="#00d2ff"/><rect x="307.8" y="629" width="3.3" height="13" fill="#00dfff"/><rect x="310.8" y="629" width="3.3" height="13" fill="#00ecff"/><rect x="313.8" y="629" width="3.3" height="13" fill="#00f9ff"/><rect x="316.8" y="629" width="3.3" height="13" fill="#00fff9"/><rect x="319.7" y="629" width="3.3" height="13" fill="#00ffec"/><rect x="322.7" y="629" width="3.3" height="13" fill="#00ffdf"/><rect x="325.7" y="629" width="3.3" height="13" fill="#00ffd2"/><rect x="328.7" y="629" width="3.3" height="13" fill="#00ffc6"/><rect x="331.7" y="629" width="3.3" height="13" fill="#00ffb9"/><rect x="334.7" y="629" width="3.3" height="13" fill="#00ffac"/><rect x="337.7" y="629" width="3.3" height="13" fill="#00ff9f"/><rect x="340.6" y="629" width="3.3" height="13" fill="#00ff93"/><rect x="343.6" y="629" width="3.3" height="13" fill="#00ff86"/><rect x="346.6" y="629" width="3.3" height="13" fill="#00ff79"/><rect x="349.6" y="629" width="3.3" height="13" fill="#00ff6c"/><rect x="352.6" y="629" width="3.3" height="13" fill="#00ff60"/><rect x="355.6" y="629" width="3.3" height="13" fill="#00ff53"/><rect x="358.6" y="629" width="3.3" height="13" fill="#00ff46"/><rect x="361.6" y="629" width="3.3" height="13" fill="#00ff39"/><rect x="364.6" y="629" width="3.3" height="13" fill="#00ff2d"/><rect x="367.5" y="629" width="3.3" height="13" fill="#00ff20"/><rect x="370.5" y="629" width="3.3" height="13" fill="#00ff13"/><rect x="373.5" y="629" width="3.3" height="13" fill="#00ff06"/><rect x="376.5" y="629" width="3.3" height="13" fill="#06ff00"/><rect x="379.5" y="629" width="3.3" height="13" fill="#13ff00"/><rect x="382.5" y="629" width="3.3" height="13" fill="#20ff00"/><rect x="385.5" y="629" width="3.3" height="13" fill="#2dff00"/><rect x="388.4" y="629" width="3.3" height="13" fill="#39ff00"/><rect x="391.4" y="629" width="3.3" height="13" fill="#46ff00"/><rect x="394.4" y="629" width="3.3" height="13" fill="#53ff00"/><rect x="397.4" y="629" width="3.3" height="13" fill="#60ff00"/><rect x="400.4" y="629" width="3.3" height="13" fill="#6cff00"/><rect x="403.4" y="629" width="3.3" height="13" fill="#79ff00"/><rect x="406.4" y="629" width="3.3" height="13" fill="#86ff00"/><rect x="409.4" y="629" width="3.3" height="13" fill="#93ff00"/><rect x="412.4" y="629" width="3.3" height="13" fill="#9fff00"/><rect x="415.3" y="629" width="3.3" height="13" fill="#acff00"/><rect x="418.3" y="629" width="3.3" height="13" fill="#b9ff00"/><rect x="421.3" y="629" width="3.3" height="13" fill="#c6ff00"/><rect x="424.3" y="629" width="3.3" height="13" fill="#d2ff00"/><rect x="427.3" y="629" width="3.3" height="13" fill="#dfff00"/><rect x="430.3" y="629" width="3.3" height="13" fill="#ecff00"/><rect x="433.3" y="629" width="3.3" height="13" fill="#f9ff00"/><rect x="436.2" y="629" width="3.3" height="13" fill="#fff900"/><rect x="439.2" y="629" width="3.3" height="13" fill="#ffec00"/><rect x="442.2" y="629" width="3.3" height="13" fill="#ffdf00"/><rect x="445.2" y="629" width="3.3" height="13" fill="#ffd200"/><rect x="448.2" y="629" width="3.3" height="13" fill="#ffc600"/><rect x="451.2" y="629" width="3.3" height="13" fill="#ffb900"/><rect x="454.2" y="629" width="3.3" height="13" fill="#ffac00"/><rect x="457.2" y="629" width="3.3" height="13" fill="#ff9f00"/><rect x="460.1" y="629" width="3.3" height="13" fill="#ff9300"/><rect x="463.1" y="629" width="3.3" height="13" fill="#ff8600"/><rect x="466.1" y="629" width="3.3" height="13" fill="#ff7900"/><rect x="469.1" y="629" width="3.3" height="13" fill="#ff6c00"/><rect x="472.1" y="629" width="3.3" height="13" fill="#ff6000"/><rect x="475.1" y="629" width="3.3" height="13" fill="#ff5300"/><rect x="478.1" y="629" width="3.3" height="13" fill="#ff4600"/><rect x="481.1" y="629" width="3.3" height="13" fill="#ff3900"/><rect x="484.1" y="629" width="3.3" height="13" fill="#ff2d00"/><rect x="487.0" y="629" width="3.3" height="13" fill="#ff2000"/><rect x="490.0" y="629" width="3.3" height="13" fill="#ff1300"/><rect x="493.0" y="629" width="3.3" height="13" fill="#ff0600"/></g>
<text x="374.5" y="614" font-size="9" text-anchor="middle" textLength="138" lengthAdjust="spacing">Significant Wave Height (Meters)</text>
<text x="375" y="662" font-size="9" text-anchor="middle" textLength="129" lengthAdjust="spacing">Significant Wave Height (Feet)</text>
<text x="256.3" y="626" font-size="9" text-anchor="middle">0</text>
<text x="276.4" y="626" font-size="9" text-anchor="middle">1</text>
<text x="296.5" y="626" font-size="9" text-anchor="middle">2</text>
<text x="316.5" y="626" font-size="9" text-anchor="middle">3</text>
<text x="336.6" y="626" font-size="9" text-anchor="middle">4</text>
<text x="356.7" y="626" font-size="9" text-anchor="middle">5</text>
<text x="376.8" y="626" font-size="9" text-anchor="middle">6</text>
<text x="396.9" y="626" font-size="9" text-anchor="middle">7</text>
<text x="416.9" y="626" font-size="9" text-anchor="middle">8</text>
<text x="437.0" y="626" font-size="9" text-anchor="middle">9</text>
<text x="457.1" y="626" font-size="9" text-anchor="middle">10</text>
<text x="477.2" y="626" font-size="9" text-anchor="middle">11</text>
<text x="497.3" y="626" font-size="9" text-anchor="middle">12</text>
<text x="256.3" y="650" font-size="9" text-anchor="middle">0</text>
<text x="286.4" y="650" font-size="9" text-anchor="middle">5</text>
<text x="316.5" y="650" font-size="9" text-anchor="middle">10</text>
<text x="346.6" y="650" font-size="9" text-anchor="middle">15</text>
<text x="376.7" y="650" font-size="9" text-anchor="middle">20</text>
<text x="406.8" y="650" font-size="9" text-anchor="middle">25</text>
<text x="436.9" y="650" font-size="9" text-anchor="middle">30</text>
<text x="467.0" y="650" font-size="9" text-anchor="middle">35</text>
<text x="497.1" y="650" font-size="9" text-anchor="middle">40</text>
</svg></body></html>
